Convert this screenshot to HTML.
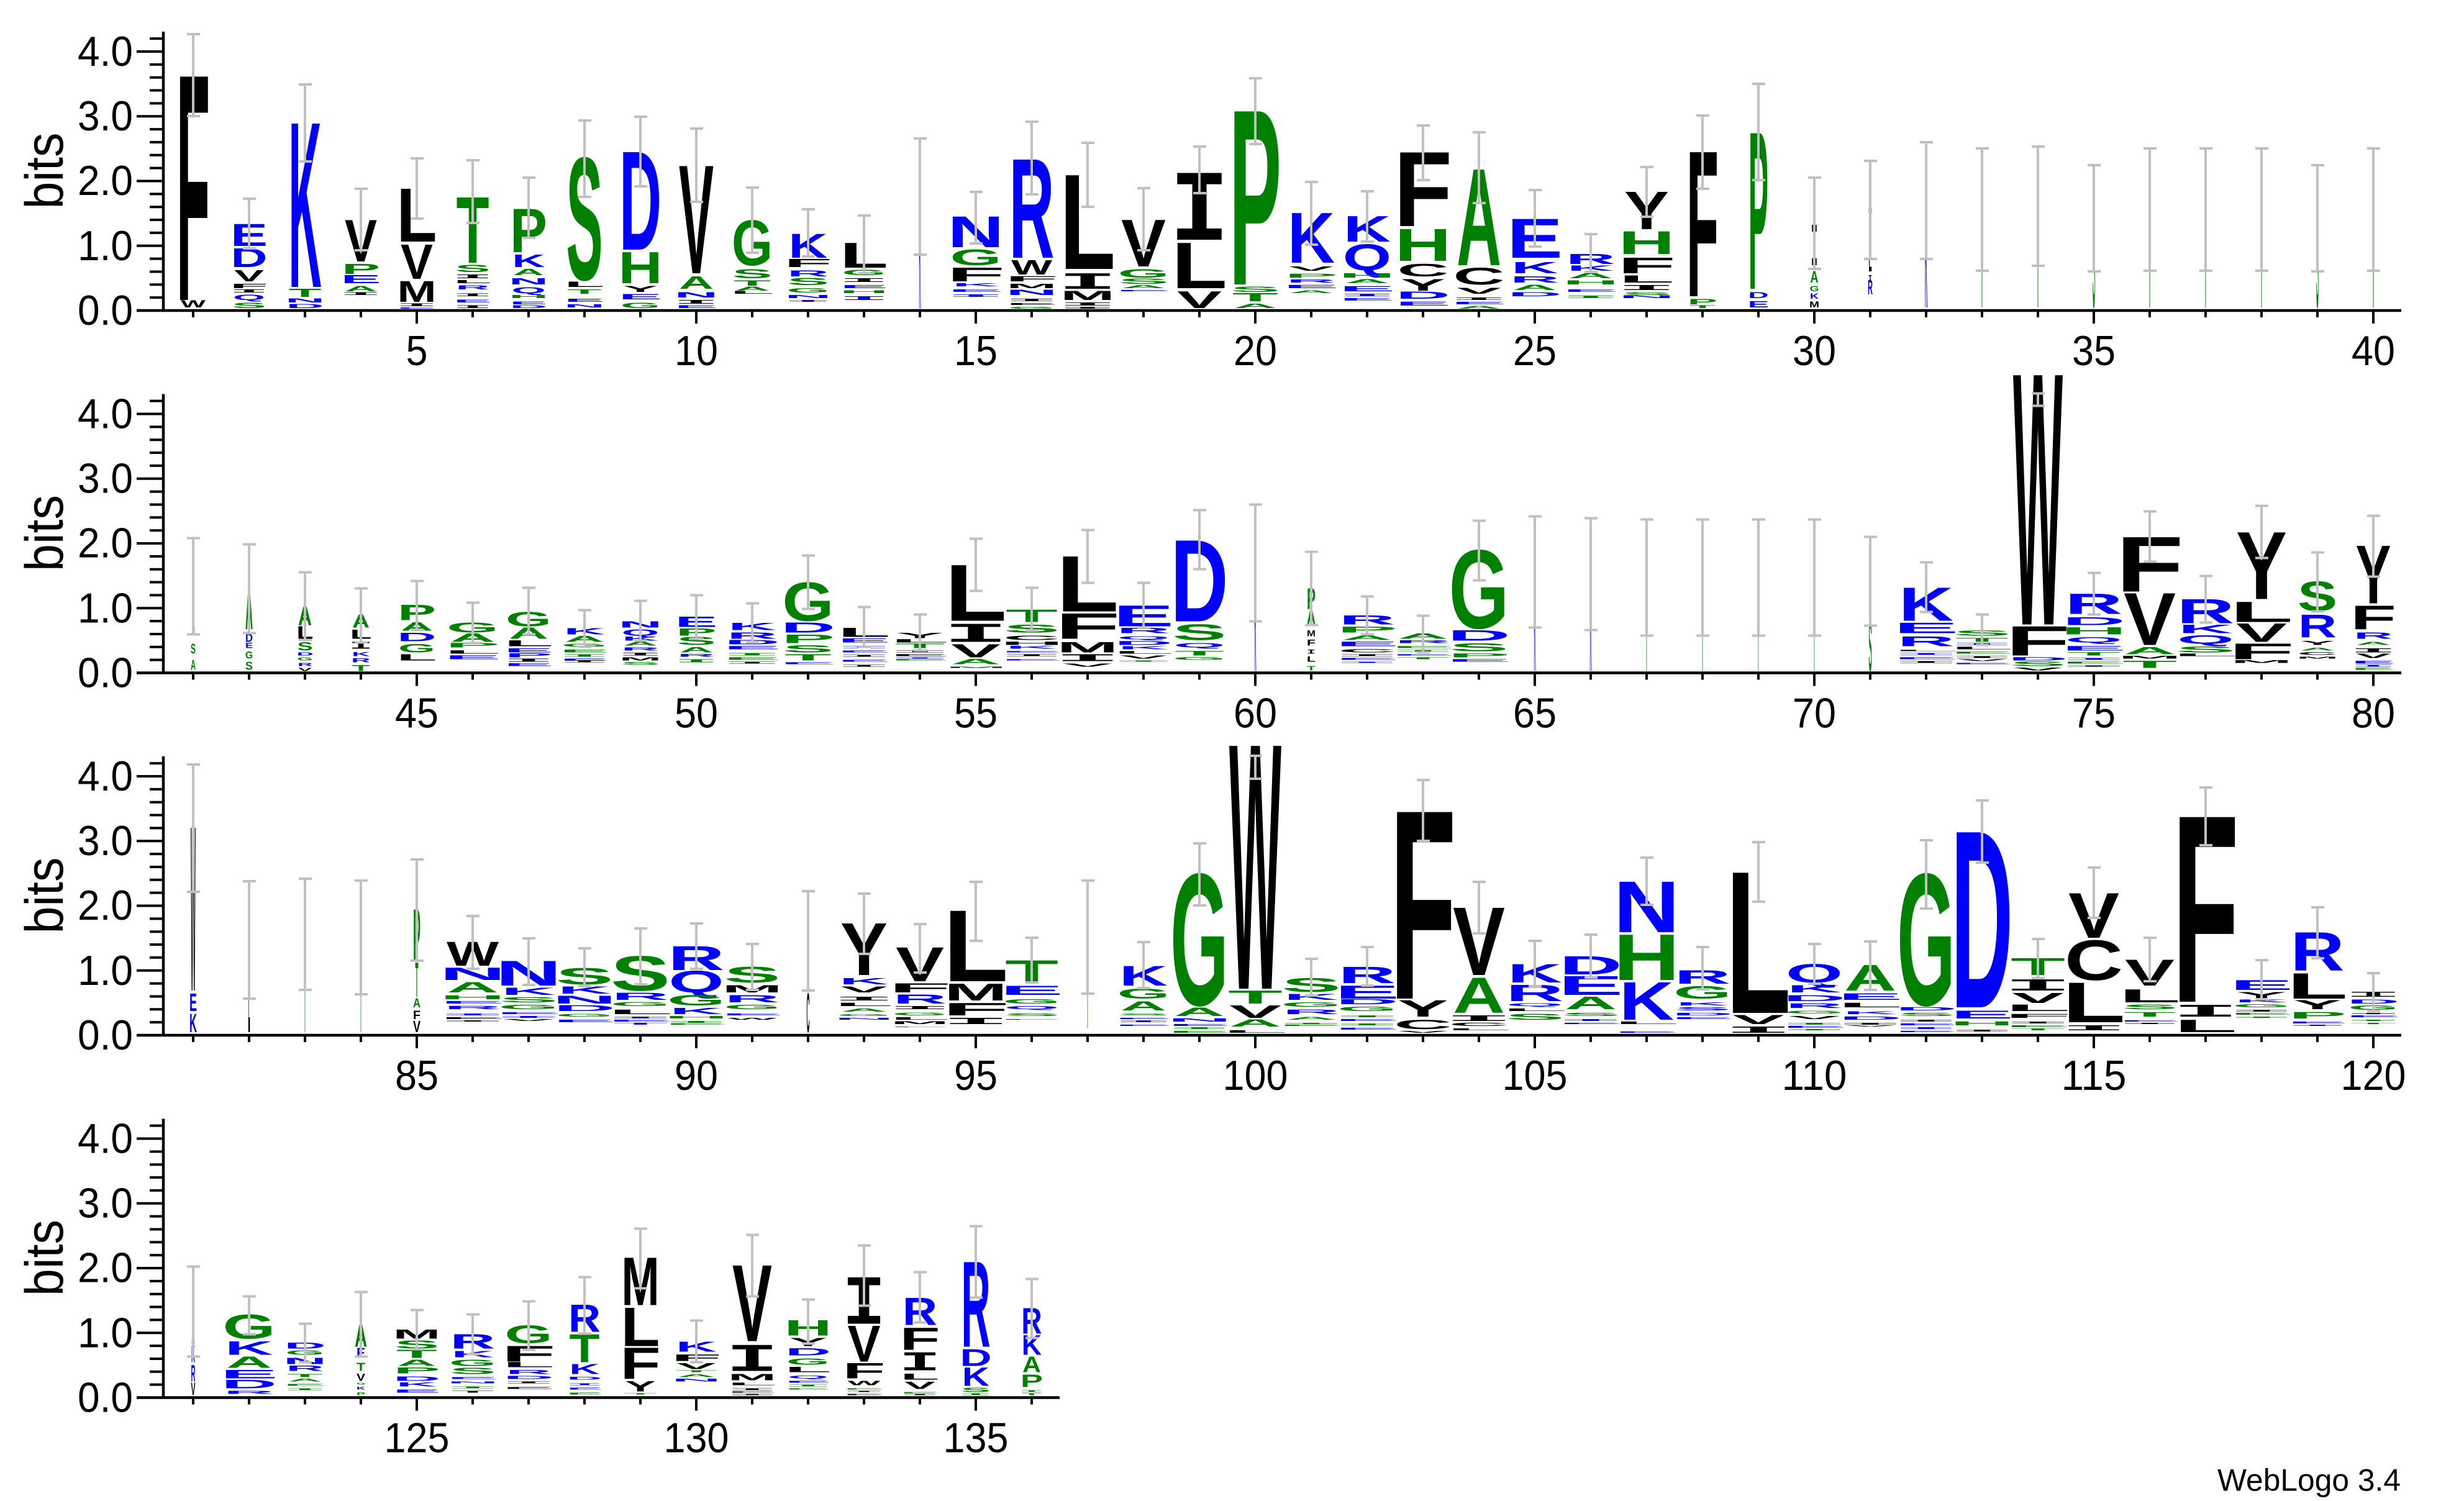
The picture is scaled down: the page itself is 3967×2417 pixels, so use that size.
<!DOCTYPE html>
<html><head><meta charset="utf-8">
<style>
html,body{margin:0;padding:0;background:#fff}
svg{display:block}
.L{font-size:151.1px}
.L text{font-family:"Liberation Sans",sans-serif;font-weight:bold;text-anchor:middle}
.L text.i{font-family:"Liberation Mono",monospace}
.b{fill:#0000ff}.g{fill:#008000}
.e{stroke:#c0c0c0;stroke-width:4;fill:none}
.ax{stroke:#000;fill:none}
.t{font-family:"Liberation Sans",sans-serif;font-size:68px;fill:#000}
.bl{font-family:"Liberation Sans",sans-serif;font-size:86px;fill:#000;text-anchor:middle}
</style></head><body>
<svg width="3967" height="2417" viewBox="0 0 3967 2417" xmlns="http://www.w3.org/2000/svg">
<defs>
<g id="yax">
<path class="ax" stroke-width="4.5" d="M263,-449V2"/>
<path class="ax" stroke-width="4" d="M220,-104.25H263M220,-208.5H263M220,-312.75H263M220,-417H263"/>
<path class="ax" stroke-width="4" d="M241,-20.85H263M241,-41.7H263M241,-62.55H263M241,-83.4H263M241,-125.1H263M241,-145.95H263M241,-166.8H263M241,-187.65H263M241,-229.35H263M241,-250.2H263M241,-271.05H263M241,-291.9H263M241,-333.6H263M241,-354.45H263M241,-375.3H263M241,-396.15H263M241,-437.85H263"/>
</g>
<g id="xt40">
<path class="ax" stroke-width="4.5" d="M220,0H3866"/>
<path class="ax" stroke-width="4" d="M311,0v11M401,0v11M491,0v11M581,0v11M671,0v21M761,0v11M851,0v11M941,0v11M1031,0v11M1121,0v21M1211,0v11M1301,0v11M1391,0v11M1481,0v11M1571,0v21M1661,0v11M1751,0v11M1841,0v11M1931,0v11M2021,0v21M2111,0v11M2201,0v11M2291,0v11M2381,0v11M2471,0v21M2561,0v11M2651,0v11M2741,0v11M2831,0v11M2921,0v21M3011,0v11M3101,0v11M3191,0v11M3281,0v11M3371,0v21M3461,0v11M3551,0v11M3641,0v11M3731,0v11M3821,0v21"/>
</g>
<g id="xt16">
<path class="ax" stroke-width="4.5" d="M220,0H1706"/>
<path class="ax" stroke-width="4" d="M311,0v11M401,0v11M491,0v11M581,0v11M671,0v21M761,0v11M851,0v11M941,0v11M1031,0v11M1121,0v21M1211,0v11M1301,0v11M1391,0v11M1481,0v11M1571,0v21M1661,0v11"/>
</g>
</defs>

<!-- ================= ROW 1 ================= -->
<g transform="translate(0,500)">
<use href="#yax"/><use href="#xt40"/>
<text class="t" x="214" y="23" text-anchor="end" textLength="89" lengthAdjust="spacingAndGlyphs">0.0</text>
<text class="t" x="214" y="-81" text-anchor="end" textLength="89" lengthAdjust="spacingAndGlyphs">1.0</text>
<text class="t" x="214" y="-186" text-anchor="end" textLength="89" lengthAdjust="spacingAndGlyphs">2.0</text>
<text class="t" x="214" y="-290" text-anchor="end" textLength="89" lengthAdjust="spacingAndGlyphs">3.0</text>
<text class="t" x="214" y="-394" text-anchor="end" textLength="89" lengthAdjust="spacingAndGlyphs">4.0</text>
<text class="bl" transform="translate(101,-225) rotate(-90)" textLength="123" lengthAdjust="spacingAndGlyphs">bits</text>
<g class="t" text-anchor="middle">
<text x="671" y="88" textLength="35" lengthAdjust="spacingAndGlyphs">5</text>
<text x="1121" y="88" textLength="70" lengthAdjust="spacingAndGlyphs">10</text>
<text x="1571" y="88" textLength="70" lengthAdjust="spacingAndGlyphs">15</text>
<text x="2021" y="88" textLength="70" lengthAdjust="spacingAndGlyphs">20</text>
<text x="2471" y="88" textLength="70" lengthAdjust="spacingAndGlyphs">25</text>
<text x="2921" y="88" textLength="70" lengthAdjust="spacingAndGlyphs">30</text>
<text x="3371" y="88" textLength="70" lengthAdjust="spacingAndGlyphs">35</text>
<text x="3821" y="88" textLength="70" lengthAdjust="spacingAndGlyphs">40</text>
</g>
<g class="L">
<g transform="translate(311,0)">
<text y="-17" font-size="3.46em" textLength="54" lengthAdjust="spacingAndGlyphs">F</text>
<text y="-5" font-size="0.11em" textLength="40" lengthAdjust="spacingAndGlyphs">W</text>
<path class="e" d="M-10,-445h21M0,-445V-313M-10,-313h21"/></g>
<g transform="translate(401,0)">
<text class="b" y="-104" font-size="0.34em" textLength="60" lengthAdjust="spacingAndGlyphs">E</text>
<text class="b" y="-70" font-size="0.29em" textLength="59" lengthAdjust="spacingAndGlyphs">D</text>
<text y="-47" font-size="0.17em" textLength="48" lengthAdjust="spacingAndGlyphs">V</text>
<text y="-36" font-size="0.07em" textLength="62" lengthAdjust="spacingAndGlyphs">F</text>
<text class="i" y="-29" font-size="0.05em" textLength="64" lengthAdjust="spacingAndGlyphs">I</text>
<text class="b" y="-17" font-size="0.08em" textLength="52" lengthAdjust="spacingAndGlyphs">Q</text>
<text class="g" y="-4" font-size="0.08em" textLength="55" lengthAdjust="spacingAndGlyphs">S</text>
<path class="e" d="M-10,-180h21M0,-180V-100M-10,-100h21"/></g>
<g transform="translate(491,0)">
<text class="b" y="-38" font-size="2.53em" textLength="53" lengthAdjust="spacingAndGlyphs">K</text>
<text class="g" y="-22" font-size="0.12em" textLength="53" lengthAdjust="spacingAndGlyphs">T</text>
<text class="b" y="-13" font-size="0.06em" textLength="64" lengthAdjust="spacingAndGlyphs">N</text>
<text class="b" y="-4" font-size="0.06em" textLength="61" lengthAdjust="spacingAndGlyphs">D</text>
<path class="e" d="M-10,-364h21M0,-364V-240M-10,-240h21"/></g>
<g transform="translate(581,0)">
<text y="-79" font-size="0.64em" textLength="52" lengthAdjust="spacingAndGlyphs">V</text>
<text class="g" y="-59" font-size="0.15em" textLength="62" lengthAdjust="spacingAndGlyphs">P</text>
<text class="b" y="-44" font-size="0.12em" textLength="65" lengthAdjust="spacingAndGlyphs">E</text>
<text class="g" y="-31" font-size="0.08em" textLength="52" lengthAdjust="spacingAndGlyphs">A</text>
<text class="i" y="-25" font-size="0.04em" textLength="69" lengthAdjust="spacingAndGlyphs">I</text>
<path class="e" d="M-10,-196h21M0,-196V-97M-10,-97h21"/></g>
<g transform="translate(671,0)">
<text y="-111" font-size="0.82em" textLength="65" lengthAdjust="spacingAndGlyphs">L</text>
<text y="-51" font-size="0.53em" textLength="52" lengthAdjust="spacingAndGlyphs">V</text>
<text y="-14" font-size="0.32em" textLength="63" lengthAdjust="spacingAndGlyphs">M</text>
<text class="i" y="-7" font-size="0.04em" textLength="69" lengthAdjust="spacingAndGlyphs">I</text>
<text class="b" y="-3" font-size="0.02em" textLength="65" lengthAdjust="spacingAndGlyphs">E</text>
<path class="e" d="M-10,-245h21M0,-245V-148M-10,-148h21"/></g>
<g transform="translate(761,0)">
<text class="g" y="-77" font-size="1.01em" textLength="53" lengthAdjust="spacingAndGlyphs">T</text>
<text class="g" y="-62" font-size="0.11em" textLength="57" lengthAdjust="spacingAndGlyphs">S</text>
<text class="i" y="-52" font-size="0.06em" textLength="66" lengthAdjust="spacingAndGlyphs">I</text>
<text y="-44" font-size="0.05em" textLength="62" lengthAdjust="spacingAndGlyphs">L</text>
<text class="b" y="-34" font-size="0.06em" textLength="55" lengthAdjust="spacingAndGlyphs">R</text>
<text class="i" y="-23" font-size="0.04em" textLength="66" lengthAdjust="spacingAndGlyphs">I</text>
<text class="b" y="-13" font-size="0.04em" textLength="62" lengthAdjust="spacingAndGlyphs">E</text>
<text class="i" y="-4" font-size="0.04em" textLength="66" lengthAdjust="spacingAndGlyphs">I</text>
<path class="e" d="M-10,-242h21M0,-242V-141M-10,-141h21"/></g>
<g transform="translate(851,0)">
<text class="g" y="-94" font-size="0.67em" textLength="60" lengthAdjust="spacingAndGlyphs">P</text>
<text class="b" y="-70" font-size="0.19em" textLength="53" lengthAdjust="spacingAndGlyphs">K</text>
<text class="g" y="-57" font-size="0.10em" textLength="50" lengthAdjust="spacingAndGlyphs">A</text>
<text class="b" y="-42" font-size="0.10em" textLength="64" lengthAdjust="spacingAndGlyphs">N</text>
<text class="b" y="-28" font-size="0.09em" textLength="55" lengthAdjust="spacingAndGlyphs">Q</text>
<text class="g" y="-20" font-size="0.05em" textLength="64" lengthAdjust="spacingAndGlyphs">H</text>
<text class="b" y="-10" font-size="0.04em" textLength="62" lengthAdjust="spacingAndGlyphs">E</text>
<text class="b" y="-4" font-size="0.04em" textLength="61" lengthAdjust="spacingAndGlyphs">D</text>
<path class="e" d="M-10,-214h21M0,-214V-117M-10,-117h21"/></g>
<g transform="translate(941,0)">
<text class="g" y="-50" font-size="1.87em" textLength="59" lengthAdjust="spacingAndGlyphs">S</text>
<text y="-38" font-size="0.08em" textLength="65" lengthAdjust="spacingAndGlyphs">L</text>
<text class="g" y="-27" font-size="0.07em" textLength="55" lengthAdjust="spacingAndGlyphs">T</text>
<text class="b" y="-14" font-size="0.05em" textLength="65" lengthAdjust="spacingAndGlyphs">E</text>
<text class="b" y="-5" font-size="0.05em" textLength="66" lengthAdjust="spacingAndGlyphs">N</text>
<path class="e" d="M-10,-306h21M0,-306V-183M-10,-183h21"/></g>
<g transform="translate(1031,0)">
<text class="b" y="-98" font-size="1.51em" textLength="68" lengthAdjust="spacingAndGlyphs">D</text>
<text class="g" y="-44" font-size="0.48em" textLength="71" lengthAdjust="spacingAndGlyphs">H</text>
<text y="-30" font-size="0.09em" textLength="56" lengthAdjust="spacingAndGlyphs">Y</text>
<text class="b" y="-18" font-size="0.08em" textLength="70" lengthAdjust="spacingAndGlyphs">E</text>
<text class="g" y="-4" font-size="0.08em" textLength="64" lengthAdjust="spacingAndGlyphs">G</text>
<path class="e" d="M-10,-312h21M0,-312V-200M-10,-200h21"/></g>
<g transform="translate(1121,0)">
<text y="-60" font-size="1.66em" textLength="56" lengthAdjust="spacingAndGlyphs">V</text>
<text class="g" y="-35" font-size="0.19em" textLength="56" lengthAdjust="spacingAndGlyphs">A</text>
<text class="b" y="-21" font-size="0.08em" textLength="71" lengthAdjust="spacingAndGlyphs">N</text>
<text class="i" y="-11" font-size="0.06em" textLength="74" lengthAdjust="spacingAndGlyphs">I</text>
<text class="b" y="-4" font-size="0.04em" textLength="70" lengthAdjust="spacingAndGlyphs">E</text>
<path class="e" d="M-10,-293h21M0,-293V-175M-10,-175h21"/></g>
<g transform="translate(1211,0)">
<text class="g" y="-73" font-size="0.69em" textLength="66" lengthAdjust="spacingAndGlyphs">G</text>
<text class="g" y="-52" font-size="0.14em" textLength="65" lengthAdjust="spacingAndGlyphs">S</text>
<text class="g" y="-40" font-size="0.08em" textLength="60" lengthAdjust="spacingAndGlyphs">T</text>
<text class="g" y="-32" font-size="0.06em" textLength="57" lengthAdjust="spacingAndGlyphs">A</text>
<text y="-27" font-size="0.04em" textLength="71" lengthAdjust="spacingAndGlyphs">L</text>
<path class="e" d="M-10,-198h21M0,-198V-93M-10,-93h21"/></g>
<g transform="translate(1301,0)">
<text class="b" y="-85" font-size="0.37em" textLength="63" lengthAdjust="spacingAndGlyphs">K</text>
<text y="-70" font-size="0.12em" textLength="78" lengthAdjust="spacingAndGlyphs">F</text>
<text class="b" y="-55" font-size="0.09em" textLength="67" lengthAdjust="spacingAndGlyphs">R</text>
<text class="g" y="-41" font-size="0.11em" textLength="68" lengthAdjust="spacingAndGlyphs">S</text>
<text class="g" y="-29" font-size="0.07em" textLength="69" lengthAdjust="spacingAndGlyphs">G</text>
<text class="b" y="-20" font-size="0.05em" textLength="76" lengthAdjust="spacingAndGlyphs">N</text>
<text class="i b" y="-14" font-size="0.03em" textLength="80" lengthAdjust="spacingAndGlyphs">I</text>
<path class="e" d="M-10,-163h21M0,-163V-87M-10,-87h21"/></g>
<g transform="translate(1391,0)">
<text y="-69" font-size="0.38em" textLength="78" lengthAdjust="spacingAndGlyphs">L</text>
<text class="g" y="-57" font-size="0.08em" textLength="71" lengthAdjust="spacingAndGlyphs">G</text>
<text class="i" y="-46" font-size="0.06em" textLength="82" lengthAdjust="spacingAndGlyphs">I</text>
<text class="b" y="-36" font-size="0.05em" textLength="78" lengthAdjust="spacingAndGlyphs">E</text>
<text class="g" y="-28" font-size="0.04em" textLength="79" lengthAdjust="spacingAndGlyphs">H</text>
<text class="i b" y="-17" font-size="0.06em" textLength="82" lengthAdjust="spacingAndGlyphs">I</text>
<path class="e" d="M-10,-153h21M0,-153V-60M-10,-60h21"/></g>
<g transform="translate(1481,0)">
<text class="b" y="-3" font-size="1.74em" textLength="3" lengthAdjust="spacingAndGlyphs">K</text>
<path class="e" d="M-10,-277h21M0,-277V-90M-10,-90h21"/></g>
<g transform="translate(1571,0)">
<text class="b" y="-102" font-size="0.47em" textLength="91" lengthAdjust="spacingAndGlyphs">N</text>
<text class="g" y="-73" font-size="0.24em" textLength="83" lengthAdjust="spacingAndGlyphs">G</text>
<text y="-47" font-size="0.21em" textLength="94" lengthAdjust="spacingAndGlyphs">F</text>
<text class="b" y="-39" font-size="0.05em" textLength="76" lengthAdjust="spacingAndGlyphs">K</text>
<text class="b" y="-30" font-size="0.04em" textLength="90" lengthAdjust="spacingAndGlyphs">E</text>
<text class="i b" y="-22" font-size="0.04em" textLength="96" lengthAdjust="spacingAndGlyphs">I</text>
<path class="e" d="M-10,-191h21M0,-191V-108M-10,-108h21"/></g>
<g transform="translate(1661,0)">
<text class="b" y="-85" font-size="1.52em" textLength="73" lengthAdjust="spacingAndGlyphs">R</text>
<text y="-58" font-size="0.22em" textLength="66" lengthAdjust="spacingAndGlyphs">W</text>
<text y="-47" font-size="0.08em" textLength="86" lengthAdjust="spacingAndGlyphs">F</text>
<text y="-36" font-size="0.07em" textLength="81" lengthAdjust="spacingAndGlyphs">M</text>
<text class="b" y="-25" font-size="0.08em" textLength="84" lengthAdjust="spacingAndGlyphs">N</text>
<text class="i" y="-15" font-size="0.04em" textLength="88" lengthAdjust="spacingAndGlyphs">I</text>
<text y="-9" font-size="0.03em" textLength="83" lengthAdjust="spacingAndGlyphs">E</text>
<text class="g" y="-3" font-size="0.03em" textLength="76" lengthAdjust="spacingAndGlyphs">G</text>
<path class="e" d="M-10,-304h21M0,-304V-187M-10,-187h21"/></g>
<g transform="translate(1751,0)">
<text y="-67" font-size="1.45em" textLength="90" lengthAdjust="spacingAndGlyphs">L</text>
<text class="i" y="-35" font-size="0.25em" textLength="96" lengthAdjust="spacingAndGlyphs">I</text>
<text y="-17" font-size="0.14em" textLength="88" lengthAdjust="spacingAndGlyphs">M</text>
<text class="i" y="-8" font-size="0.05em" textLength="96" lengthAdjust="spacingAndGlyphs">I</text>
<text class="i" y="-3" font-size="0.03em" textLength="96" lengthAdjust="spacingAndGlyphs">I</text>
<path class="e" d="M-10,-270h21M0,-270V-167M-10,-167h21"/></g>
<g transform="translate(1841,0)">
<text y="-71" font-size="0.72em" textLength="72" lengthAdjust="spacingAndGlyphs">V</text>
<text class="g" y="-53" font-size="0.13em" textLength="83" lengthAdjust="spacingAndGlyphs">G</text>
<text class="g" y="-43" font-size="0.08em" textLength="82" lengthAdjust="spacingAndGlyphs">S</text>
<text class="g" y="-36" font-size="0.05em" textLength="72" lengthAdjust="spacingAndGlyphs">A</text>
<text class="b" y="-31" font-size="0.02em" textLength="90" lengthAdjust="spacingAndGlyphs">E</text>
<path class="e" d="M-10,-197h21M0,-197V-97M-10,-97h21"/></g>
<g transform="translate(1931,0)">
<text class="i" y="-114" font-size="1.08em" textLength="96" lengthAdjust="spacingAndGlyphs">I</text>
<text y="-36" font-size="0.70em" textLength="90" lengthAdjust="spacingAndGlyphs">L</text>
<text y="-4" font-size="0.26em" textLength="72" lengthAdjust="spacingAndGlyphs">V</text>
<path class="e" d="M-10,-264h21M0,-264V-189M-10,-189h21"/></g>
<g transform="translate(2021,0)">
<text class="g" y="-42" font-size="2.68em" textLength="84" lengthAdjust="spacingAndGlyphs">P</text>
<text class="g" y="-30" font-size="0.08em" textLength="80" lengthAdjust="spacingAndGlyphs">S</text>
<text class="g" y="-15" font-size="0.12em" textLength="74" lengthAdjust="spacingAndGlyphs">T</text>
<text class="g" y="-4" font-size="0.07em" textLength="70" lengthAdjust="spacingAndGlyphs">A</text>
<path class="e" d="M-10,-374h21M0,-374V-268M-10,-268h21"/></g>
<g transform="translate(2111,0)">
<text class="b" y="-77" font-size="0.77em" textLength="76" lengthAdjust="spacingAndGlyphs">K</text>
<text y="-64" font-size="0.07em" textLength="72" lengthAdjust="spacingAndGlyphs">V</text>
<text class="g" y="-53" font-size="0.06em" textLength="86" lengthAdjust="spacingAndGlyphs">P</text>
<text class="b" y="-45" font-size="0.05em" textLength="80" lengthAdjust="spacingAndGlyphs">R</text>
<text class="b" y="-36" font-size="0.05em" textLength="90" lengthAdjust="spacingAndGlyphs">E</text>
<text class="g" y="-28" font-size="0.04em" textLength="72" lengthAdjust="spacingAndGlyphs">A</text>
<path class="e" d="M-10,-207h21M0,-207V-106M-10,-106h21"/></g>
<g transform="translate(2201,0)">
<text class="b" y="-111" font-size="0.39em" textLength="76" lengthAdjust="spacingAndGlyphs">K</text>
<text class="b" y="-65" font-size="0.40em" textLength="78" lengthAdjust="spacingAndGlyphs">Q</text>
<text class="g" y="-53" font-size="0.07em" textLength="91" lengthAdjust="spacingAndGlyphs">H</text>
<text class="g" y="-44" font-size="0.06em" textLength="72" lengthAdjust="spacingAndGlyphs">A</text>
<text class="b" y="-31" font-size="0.08em" textLength="90" lengthAdjust="spacingAndGlyphs">E</text>
<text class="i b" y="-23" font-size="0.04em" textLength="96" lengthAdjust="spacingAndGlyphs">I</text>
<text class="b" y="-16" font-size="0.04em" textLength="90" lengthAdjust="spacingAndGlyphs">E</text>
<path class="e" d="M-10,-192h21M0,-192V-111M-10,-111h21"/></g>
<g transform="translate(2291,0)">
<text y="-136" font-size="1.14em" textLength="94" lengthAdjust="spacingAndGlyphs">F</text>
<text class="g" y="-80" font-size="0.49em" textLength="91" lengthAdjust="spacingAndGlyphs">H</text>
<text y="-55" font-size="0.19em" textLength="83" lengthAdjust="spacingAndGlyphs">C</text>
<text y="-32" font-size="0.18em" textLength="72" lengthAdjust="spacingAndGlyphs">Y</text>
<text class="b" y="-19" font-size="0.11em" textLength="88" lengthAdjust="spacingAndGlyphs">D</text>
<text class="b" y="-8" font-size="0.06em" textLength="90" lengthAdjust="spacingAndGlyphs">E</text>
<path class="e" d="M-10,-298h21M0,-298V-210M-10,-210h21"/></g>
<g transform="translate(2381,0)">
<text class="g" y="-73" font-size="1.48em" textLength="72" lengthAdjust="spacingAndGlyphs">A</text>
<text y="-42" font-size="0.26em" textLength="83" lengthAdjust="spacingAndGlyphs">C</text>
<text y="-27" font-size="0.09em" textLength="72" lengthAdjust="spacingAndGlyphs">V</text>
<text class="i" y="-17" font-size="0.04em" textLength="96" lengthAdjust="spacingAndGlyphs">I</text>
<text class="b" y="-10" font-size="0.04em" textLength="90" lengthAdjust="spacingAndGlyphs">E</text>
<text class="g" y="-3" font-size="0.04em" textLength="72" lengthAdjust="spacingAndGlyphs">A</text>
<path class="e" d="M-10,-287h21M0,-287V-173M-10,-173h21"/></g>
<g transform="translate(2471,0)">
<text class="b" y="-85" font-size="0.60em" textLength="90" lengthAdjust="spacingAndGlyphs">E</text>
<text class="b" y="-60" font-size="0.17em" textLength="76" lengthAdjust="spacingAndGlyphs">K</text>
<text class="b" y="-45" font-size="0.10em" textLength="80" lengthAdjust="spacingAndGlyphs">R</text>
<text class="g" y="-33" font-size="0.08em" textLength="72" lengthAdjust="spacingAndGlyphs">A</text>
<text class="b" y="-23" font-size="0.06em" textLength="88" lengthAdjust="spacingAndGlyphs">D</text>
<path class="e" d="M-10,-194h21M0,-194V-103M-10,-103h21"/></g>
<g transform="translate(2561,0)">
<text class="b" y="-75" font-size="0.15em" textLength="80" lengthAdjust="spacingAndGlyphs">R</text>
<text class="b" y="-64" font-size="0.08em" textLength="76" lengthAdjust="spacingAndGlyphs">K</text>
<text class="g" y="-52" font-size="0.08em" textLength="72" lengthAdjust="spacingAndGlyphs">A</text>
<text class="g" y="-42" font-size="0.06em" textLength="91" lengthAdjust="spacingAndGlyphs">H</text>
<text class="b" y="-30" font-size="0.04em" textLength="90" lengthAdjust="spacingAndGlyphs">E</text>
<text class="i g" y="-20" font-size="0.04em" textLength="96" lengthAdjust="spacingAndGlyphs">I</text>
<path class="e" d="M-10,-123h21M0,-123V-62M-10,-62h21"/></g>
<g transform="translate(2651,0)">
<text y="-131" font-size="0.58em" textLength="72" lengthAdjust="spacingAndGlyphs">Y</text>
<text class="g" y="-91" font-size="0.35em" textLength="91" lengthAdjust="spacingAndGlyphs">H</text>
<text y="-60" font-size="0.24em" textLength="94" lengthAdjust="spacingAndGlyphs">F</text>
<text y="-45" font-size="0.11em" textLength="90" lengthAdjust="spacingAndGlyphs">L</text>
<text class="i" y="-33" font-size="0.08em" textLength="96" lengthAdjust="spacingAndGlyphs">I</text>
<text class="g" y="-25" font-size="0.04em" textLength="82" lengthAdjust="spacingAndGlyphs">S</text>
<text class="b" y="-20" font-size="0.04em" textLength="91" lengthAdjust="spacingAndGlyphs">N</text>
<path class="e" d="M-10,-231h21M0,-231V-151M-10,-151h21"/></g>
<g transform="translate(2741,0)">
<text y="-23" font-size="2.23em" textLength="52" lengthAdjust="spacingAndGlyphs">F</text>
<text class="g" y="-10" font-size="0.08em" textLength="48" lengthAdjust="spacingAndGlyphs">P</text>
<text class="g" y="-4" font-size="0.04em" textLength="42" lengthAdjust="spacingAndGlyphs">T</text>
<path class="e" d="M-10,-314h21M0,-314V-196M-10,-196h21"/></g>
<g transform="translate(2831,0)">
<text class="g" y="-35" font-size="2.41em" textLength="32" lengthAdjust="spacingAndGlyphs">P</text>
<text class="b" y="-20" font-size="0.09em" textLength="33" lengthAdjust="spacingAndGlyphs">D</text>
<text class="b" y="-5" font-size="0.10em" textLength="34" lengthAdjust="spacingAndGlyphs">E</text>
<path class="e" d="M-10,-365h21M0,-365V-210M-10,-210h21"/></g>
<g transform="translate(2921,0)">
<text class="i" y="-73" font-size="0.65em" textLength="10" lengthAdjust="spacingAndGlyphs">I</text>
<text class="g" y="-45" font-size="0.18em" textLength="13" lengthAdjust="spacingAndGlyphs">A</text>
<text class="g" y="-31" font-size="0.08em" textLength="15" lengthAdjust="spacingAndGlyphs">G</text>
<text class="b" y="-19" font-size="0.08em" textLength="14" lengthAdjust="spacingAndGlyphs">K</text>
<text y="-5" font-size="0.09em" textLength="16" lengthAdjust="spacingAndGlyphs">M</text>
<path class="e" d="M-10,-214h21M0,-214V-67M-10,-67h21"/></g>
<g transform="translate(3011,0)">
<text class="g" y="-115" font-size="0.47em" textLength="5" lengthAdjust="spacingAndGlyphs">T</text>
<text y="-63" font-size="0.45em" textLength="5" lengthAdjust="spacingAndGlyphs">L</text>
<text class="i" y="-47" font-size="0.10em" textLength="6" lengthAdjust="spacingAndGlyphs">I</text>
<text class="b" y="-26" font-size="0.22em" textLength="8" lengthAdjust="spacingAndGlyphs">R</text>
<path class="e" d="M-10,-241h21M0,-241V-83M-10,-83h21"/></g>
<g transform="translate(3101,0)">
<text class="b" y="-5" font-size="1.65em" textLength="4" lengthAdjust="spacingAndGlyphs">K</text>
<path class="e" d="M-10,-271h21M0,-271V-83M-10,-83h21"/></g>
<g transform="translate(3191,0)">
<text class="g" y="-5" font-size="1.50em" textLength="4" lengthAdjust="spacingAndGlyphs">T</text>
<path class="e" d="M-10,-261h21M0,-261V-64M-10,-64h21"/></g>
<g transform="translate(3281,0)">
<text class="g" y="-5" font-size="1.56em" textLength="4" lengthAdjust="spacingAndGlyphs">T</text>
<path class="e" d="M-10,-264h21M0,-264V-72M-10,-72h21"/></g>
<g transform="translate(3371,0)">
<text class="g" y="-5" font-size="1.37em" textLength="4" lengthAdjust="spacingAndGlyphs">S</text>
<path class="e" d="M-10,-234h21M0,-234V-63M-10,-63h21"/></g>
<g transform="translate(3461,0)">
<text class="g" y="-5" font-size="1.50em" textLength="4" lengthAdjust="spacingAndGlyphs">T</text>
<path class="e" d="M-10,-261h21M0,-261V-64M-10,-64h21"/></g>
<g transform="translate(3551,0)">
<text class="g" y="-5" font-size="1.50em" textLength="4" lengthAdjust="spacingAndGlyphs">T</text>
<path class="e" d="M-10,-261h21M0,-261V-64M-10,-64h21"/></g>
<g transform="translate(3641,0)">
<text class="g" y="-5" font-size="1.50em" textLength="4" lengthAdjust="spacingAndGlyphs">T</text>
<path class="e" d="M-10,-261h21M0,-261V-64M-10,-64h21"/></g>
<g transform="translate(3731,0)">
<text class="g" y="-5" font-size="1.37em" textLength="4" lengthAdjust="spacingAndGlyphs">S</text>
<path class="e" d="M-10,-234h21M0,-234V-63M-10,-63h21"/></g>
<g transform="translate(3821,0)">
<text class="g" y="-5" font-size="1.50em" textLength="4" lengthAdjust="spacingAndGlyphs">T</text>
<path class="e" d="M-10,-261h21M0,-261V-64M-10,-64h21"/></g>
</g>
</g>

<!-- ================= ROW 2 ================= -->
<g transform="translate(0,1083.5)">
<use href="#yax"/><use href="#xt40"/>
<text class="t" x="214" y="23" text-anchor="end" textLength="89" lengthAdjust="spacingAndGlyphs">0.0</text>
<text class="t" x="214" y="-81" text-anchor="end" textLength="89" lengthAdjust="spacingAndGlyphs">1.0</text>
<text class="t" x="214" y="-186" text-anchor="end" textLength="89" lengthAdjust="spacingAndGlyphs">2.0</text>
<text class="t" x="214" y="-290" text-anchor="end" textLength="89" lengthAdjust="spacingAndGlyphs">3.0</text>
<text class="t" x="214" y="-394" text-anchor="end" textLength="89" lengthAdjust="spacingAndGlyphs">4.0</text>
<text class="bl" transform="translate(101,-225) rotate(-90)" textLength="123" lengthAdjust="spacingAndGlyphs">bits</text>
<g class="t" text-anchor="middle">
<text x="671" y="88" textLength="70" lengthAdjust="spacingAndGlyphs">45</text>
<text x="1121" y="88" textLength="70" lengthAdjust="spacingAndGlyphs">50</text>
<text x="1571" y="88" textLength="70" lengthAdjust="spacingAndGlyphs">55</text>
<text x="2021" y="88" textLength="70" lengthAdjust="spacingAndGlyphs">60</text>
<text x="2471" y="88" textLength="70" lengthAdjust="spacingAndGlyphs">65</text>
<text x="2921" y="88" textLength="70" lengthAdjust="spacingAndGlyphs">70</text>
<text x="3371" y="88" textLength="70" lengthAdjust="spacingAndGlyphs">75</text>
<text x="3821" y="88" textLength="70" lengthAdjust="spacingAndGlyphs">80</text>
</g>
<g class="L">
<g transform="translate(311,0)">
<text y="-63" font-size="0.74em" textLength="5" lengthAdjust="spacingAndGlyphs">L</text>
<text class="g" y="-31" font-size="0.15em" textLength="8" lengthAdjust="spacingAndGlyphs">S</text>
<text class="g" y="-5" font-size="0.15em" textLength="8" lengthAdjust="spacingAndGlyphs">A</text>
<path class="e" d="M-10,-217h21M0,-217V-62M-10,-62h21"/></g>
<g transform="translate(401,0)">
<text class="g" y="-70" font-size="0.63em" textLength="12" lengthAdjust="spacingAndGlyphs">A</text>
<text class="b" y="-50" font-size="0.12em" textLength="12" lengthAdjust="spacingAndGlyphs">D</text>
<text class="b" y="-40" font-size="0.08em" textLength="12" lengthAdjust="spacingAndGlyphs">E</text>
<text class="g" y="-23" font-size="0.11em" textLength="12" lengthAdjust="spacingAndGlyphs">G</text>
<text class="g" y="-5" font-size="0.12em" textLength="12" lengthAdjust="spacingAndGlyphs">S</text>
<path class="e" d="M-10,-207h21M0,-207V-64M-10,-64h21"/></g>
<g transform="translate(491,0)">
<text class="g" y="-77" font-size="0.29em" textLength="22" lengthAdjust="spacingAndGlyphs">A</text>
<text y="-55" font-size="0.19em" textLength="27" lengthAdjust="spacingAndGlyphs">L</text>
<text class="g" y="-36" font-size="0.13em" textLength="25" lengthAdjust="spacingAndGlyphs">S</text>
<text class="b" y="-28" font-size="0.05em" textLength="27" lengthAdjust="spacingAndGlyphs">D</text>
<text class="g" y="-20" font-size="0.05em" textLength="25" lengthAdjust="spacingAndGlyphs">G</text>
<text class="b" y="-11" font-size="0.05em" textLength="24" lengthAdjust="spacingAndGlyphs">R</text>
<text y="-3" font-size="0.05em" textLength="22" lengthAdjust="spacingAndGlyphs">V</text>
<path class="e" d="M-10,-162h21M0,-162V-53M-10,-53h21"/></g>
<g transform="translate(581,0)">
<text class="g" y="-73" font-size="0.20em" textLength="28" lengthAdjust="spacingAndGlyphs">A</text>
<text y="-55" font-size="0.14em" textLength="35" lengthAdjust="spacingAndGlyphs">L</text>
<text class="i" y="-39" font-size="0.11em" textLength="37" lengthAdjust="spacingAndGlyphs">I</text>
<text class="b" y="-27" font-size="0.06em" textLength="29" lengthAdjust="spacingAndGlyphs">K</text>
<text class="b" y="-17" font-size="0.06em" textLength="31" lengthAdjust="spacingAndGlyphs">R</text>
<text class="g" y="-3" font-size="0.09em" textLength="29" lengthAdjust="spacingAndGlyphs">T</text>
<path class="e" d="M-10,-136h21M0,-136V-49M-10,-49h21"/></g>
<g transform="translate(671,0)">
<text class="g" y="-85" font-size="0.23em" textLength="62" lengthAdjust="spacingAndGlyphs">P</text>
<text class="g" y="-68" font-size="0.13em" textLength="52" lengthAdjust="spacingAndGlyphs">A</text>
<text class="b" y="-51" font-size="0.13em" textLength="63" lengthAdjust="spacingAndGlyphs">D</text>
<text class="g" y="-33" font-size="0.13em" textLength="60" lengthAdjust="spacingAndGlyphs">G</text>
<text y="-20" font-size="0.10em" textLength="65" lengthAdjust="spacingAndGlyphs">L</text>
<path class="e" d="M-10,-148h21M0,-148V-69M-10,-69h21"/></g>
<g transform="translate(761,0)">
<text class="g" y="-65" font-size="0.15em" textLength="84" lengthAdjust="spacingAndGlyphs">G</text>
<text class="g" y="-50" font-size="0.13em" textLength="73" lengthAdjust="spacingAndGlyphs">A</text>
<text class="g" y="-41" font-size="0.07em" textLength="88" lengthAdjust="spacingAndGlyphs">P</text>
<text y="-31" font-size="0.05em" textLength="91" lengthAdjust="spacingAndGlyphs">L</text>
<text class="b" y="-22" font-size="0.06em" textLength="91" lengthAdjust="spacingAndGlyphs">E</text>
<path class="e" d="M-10,-113h21M0,-113V-48M-10,-48h21"/></g>
<g transform="translate(851,0)">
<text class="g" y="-75" font-size="0.22em" textLength="74" lengthAdjust="spacingAndGlyphs">G</text>
<text class="g" y="-55" font-size="0.17em" textLength="64" lengthAdjust="spacingAndGlyphs">A</text>
<text y="-43" font-size="0.09em" textLength="80" lengthAdjust="spacingAndGlyphs">L</text>
<text class="b" y="-33" font-size="0.06em" textLength="80" lengthAdjust="spacingAndGlyphs">E</text>
<text class="b" y="-25" font-size="0.06em" textLength="77" lengthAdjust="spacingAndGlyphs">P</text>
<text class="i" y="-18" font-size="0.05em" textLength="85" lengthAdjust="spacingAndGlyphs">I</text>
<text class="b" y="-11" font-size="0.04em" textLength="80" lengthAdjust="spacingAndGlyphs">E</text>
<path class="e" d="M-10,-137h21M0,-137V-62M-10,-62h21"/></g>
<g transform="translate(941,0)">
<text class="b" y="-62" font-size="0.10em" textLength="67" lengthAdjust="spacingAndGlyphs">K</text>
<text class="g" y="-50" font-size="0.09em" textLength="64" lengthAdjust="spacingAndGlyphs">A</text>
<text class="g" y="-42" font-size="0.05em" textLength="74" lengthAdjust="spacingAndGlyphs">G</text>
<text class="g" y="-33" font-size="0.04em" textLength="80" lengthAdjust="spacingAndGlyphs">E</text>
<text class="i g" y="-26" font-size="0.04em" textLength="85" lengthAdjust="spacingAndGlyphs">I</text>
<text class="b" y="-20" font-size="0.03em" textLength="80" lengthAdjust="spacingAndGlyphs">E</text>
<text class="i" y="-17" font-size="0.03em" textLength="85" lengthAdjust="spacingAndGlyphs">I</text>
<path class="e" d="M-10,-101h21M0,-101V-42M-10,-42h21"/></g>
<g transform="translate(1031,0)">
<text class="b" y="-73" font-size="0.10em" textLength="71" lengthAdjust="spacingAndGlyphs">N</text>
<text class="b" y="-60" font-size="0.10em" textLength="61" lengthAdjust="spacingAndGlyphs">Q</text>
<text class="b" y="-52" font-size="0.06em" textLength="59" lengthAdjust="spacingAndGlyphs">K</text>
<text class="g" y="-44" font-size="0.06em" textLength="56" lengthAdjust="spacingAndGlyphs">A</text>
<text class="b" y="-36" font-size="0.05em" textLength="62" lengthAdjust="spacingAndGlyphs">R</text>
<text class="i" y="-28" font-size="0.04em" textLength="74" lengthAdjust="spacingAndGlyphs">I</text>
<text y="-20" font-size="0.05em" textLength="68" lengthAdjust="spacingAndGlyphs">M</text>
<text class="g" y="-13" font-size="0.04em" textLength="64" lengthAdjust="spacingAndGlyphs">S</text>
<path class="e" d="M-10,-116h21M0,-116V-52M-10,-52h21"/></g>
<g transform="translate(1121,0)">
<text class="b" y="-74" font-size="0.16em" textLength="69" lengthAdjust="spacingAndGlyphs">E</text>
<text class="g" y="-60" font-size="0.11em" textLength="66" lengthAdjust="spacingAndGlyphs">P</text>
<text class="g" y="-45" font-size="0.12em" textLength="63" lengthAdjust="spacingAndGlyphs">S</text>
<text class="g" y="-33" font-size="0.08em" textLength="55" lengthAdjust="spacingAndGlyphs">A</text>
<text class="b" y="-26" font-size="0.04em" textLength="61" lengthAdjust="spacingAndGlyphs">R</text>
<text class="i g" y="-17" font-size="0.05em" textLength="73" lengthAdjust="spacingAndGlyphs">I</text>
<path class="e" d="M-10,-125h21M0,-125V-55M-10,-55h21"/></g>
<g transform="translate(1211,0)">
<text class="b" y="-69" font-size="0.11em" textLength="78" lengthAdjust="spacingAndGlyphs">K</text>
<text class="b" y="-55" font-size="0.10em" textLength="82" lengthAdjust="spacingAndGlyphs">R</text>
<text class="b" y="-46" font-size="0.07em" textLength="90" lengthAdjust="spacingAndGlyphs">D</text>
<text class="b" y="-38" font-size="0.05em" textLength="93" lengthAdjust="spacingAndGlyphs">E</text>
<text class="i g" y="-28" font-size="0.04em" textLength="98" lengthAdjust="spacingAndGlyphs">I</text>
<text class="g" y="-21" font-size="0.04em" textLength="93" lengthAdjust="spacingAndGlyphs">E</text>
<text class="i" y="-15" font-size="0.03em" textLength="98" lengthAdjust="spacingAndGlyphs">I</text>
<path class="e" d="M-10,-112h21M0,-112V-49M-10,-49h21"/></g>
<g transform="translate(1301,0)">
<text class="g" y="-84" font-size="0.59em" textLength="83" lengthAdjust="spacingAndGlyphs">G</text>
<text class="b" y="-65" font-size="0.15em" textLength="88" lengthAdjust="spacingAndGlyphs">D</text>
<text class="g" y="-48" font-size="0.13em" textLength="86" lengthAdjust="spacingAndGlyphs">P</text>
<text class="g" y="-33" font-size="0.11em" textLength="82" lengthAdjust="spacingAndGlyphs">S</text>
<text class="g" y="-20" font-size="0.10em" textLength="76" lengthAdjust="spacingAndGlyphs">T</text>
<text class="b" y="-14" font-size="0.03em" textLength="90" lengthAdjust="spacingAndGlyphs">E</text>
<path class="e" d="M-10,-189h21M0,-189V-103M-10,-103h21"/></g>
<g transform="translate(1391,0)">
<text y="-58" font-size="0.14em" textLength="85" lengthAdjust="spacingAndGlyphs">L</text>
<text class="b" y="-49" font-size="0.06em" textLength="85" lengthAdjust="spacingAndGlyphs">E</text>
<text class="i b" y="-40" font-size="0.03em" textLength="90" lengthAdjust="spacingAndGlyphs">I</text>
<text class="b" y="-33" font-size="0.03em" textLength="85" lengthAdjust="spacingAndGlyphs">E</text>
<text class="i" y="-26" font-size="0.03em" textLength="90" lengthAdjust="spacingAndGlyphs">I</text>
<text class="b" y="-18" font-size="0.03em" textLength="85" lengthAdjust="spacingAndGlyphs">E</text>
<text class="i" y="-10" font-size="0.03em" textLength="90" lengthAdjust="spacingAndGlyphs">I</text>
<path class="e" d="M-10,-106h21M0,-106V-42M-10,-42h21"/></g>
<g transform="translate(1481,0)">
<text y="-56" font-size="0.08em" textLength="76" lengthAdjust="spacingAndGlyphs">Y</text>
<text y="-49" font-size="0.05em" textLength="95" lengthAdjust="spacingAndGlyphs">L</text>
<text class="g" y="-40" font-size="0.07em" textLength="80" lengthAdjust="spacingAndGlyphs">T</text>
<text class="i" y="-33" font-size="0.03em" textLength="101" lengthAdjust="spacingAndGlyphs">I</text>
<text y="-27" font-size="0.03em" textLength="95" lengthAdjust="spacingAndGlyphs">E</text>
<text class="i b" y="-23" font-size="0.02em" textLength="101" lengthAdjust="spacingAndGlyphs">I</text>
<text class="g" y="-20" font-size="0.02em" textLength="95" lengthAdjust="spacingAndGlyphs">E</text>
<path class="e" d="M-10,-94h21M0,-94V-36M-10,-36h21"/></g>
<g transform="translate(1571,0)">
<text y="-84" font-size="0.86em" textLength="100" lengthAdjust="spacingAndGlyphs">L</text>
<text class="i" y="-50" font-size="0.29em" textLength="106" lengthAdjust="spacingAndGlyphs">I</text>
<text y="-25" font-size="0.20em" textLength="80" lengthAdjust="spacingAndGlyphs">V</text>
<text class="g" y="-14" font-size="0.08em" textLength="80" lengthAdjust="spacingAndGlyphs">A</text>
<text y="-8" font-size="0.02em" textLength="98" lengthAdjust="spacingAndGlyphs">M</text>
<path class="e" d="M-10,-216h21M0,-216V-132M-10,-132h21"/></g>
<g transform="translate(1661,0)">
<text class="g" y="-82" font-size="0.19em" textLength="84" lengthAdjust="spacingAndGlyphs">T</text>
<text class="g" y="-65" font-size="0.12em" textLength="91" lengthAdjust="spacingAndGlyphs">S</text>
<text y="-53" font-size="0.07em" textLength="92" lengthAdjust="spacingAndGlyphs">C</text>
<text y="-45" font-size="0.05em" textLength="102" lengthAdjust="spacingAndGlyphs">H</text>
<text class="b" y="-39" font-size="0.04em" textLength="84" lengthAdjust="spacingAndGlyphs">K</text>
<text class="b" y="-33" font-size="0.02em" textLength="100" lengthAdjust="spacingAndGlyphs">E</text>
<text class="i" y="-27" font-size="0.03em" textLength="106" lengthAdjust="spacingAndGlyphs">I</text>
<text class="b" y="-20" font-size="0.02em" textLength="100" lengthAdjust="spacingAndGlyphs">E</text>
<path class="e" d="M-10,-137h21M0,-137V-68M-10,-68h21"/></g>
<g transform="translate(1751,0)">
<text y="-99" font-size="0.85em" textLength="101" lengthAdjust="spacingAndGlyphs">L</text>
<text y="-55" font-size="0.39em" textLength="105" lengthAdjust="spacingAndGlyphs">F</text>
<text y="-33" font-size="0.16em" textLength="99" lengthAdjust="spacingAndGlyphs">M</text>
<text class="i" y="-19" font-size="0.11em" textLength="108" lengthAdjust="spacingAndGlyphs">I</text>
<text y="-10" font-size="0.05em" textLength="81" lengthAdjust="spacingAndGlyphs">V</text>
<path class="e" d="M-10,-230h21M0,-230V-145M-10,-145h21"/></g>
<g transform="translate(1841,0)">
<text class="b" y="-75" font-size="0.32em" textLength="98" lengthAdjust="spacingAndGlyphs">E</text>
<text class="b" y="-64" font-size="0.08em" textLength="87" lengthAdjust="spacingAndGlyphs">R</text>
<text class="b" y="-54" font-size="0.05em" textLength="85" lengthAdjust="spacingAndGlyphs">Q</text>
<text class="b" y="-45" font-size="0.06em" textLength="95" lengthAdjust="spacingAndGlyphs">D</text>
<text class="b" y="-38" font-size="0.05em" textLength="82" lengthAdjust="spacingAndGlyphs">K</text>
<text y="-31" font-size="0.04em" textLength="98" lengthAdjust="spacingAndGlyphs">L</text>
<text y="-23" font-size="0.05em" textLength="78" lengthAdjust="spacingAndGlyphs">V</text>
<text class="i g" y="-18" font-size="0.02em" textLength="104" lengthAdjust="spacingAndGlyphs">I</text>
<path class="e" d="M-10,-145h21M0,-145V-72M-10,-72h21"/></g>
<g transform="translate(1931,0)">
<text class="b" y="-83" font-size="1.25em" textLength="93" lengthAdjust="spacingAndGlyphs">D</text>
<text class="g" y="-53" font-size="0.24em" textLength="87" lengthAdjust="spacingAndGlyphs">S</text>
<text class="b" y="-41" font-size="0.07em" textLength="83" lengthAdjust="spacingAndGlyphs">Q</text>
<text class="g" y="-28" font-size="0.07em" textLength="80" lengthAdjust="spacingAndGlyphs">T</text>
<text class="g" y="-21" font-size="0.04em" textLength="87" lengthAdjust="spacingAndGlyphs">G</text>
<path class="e" d="M-10,-262h21M0,-262V-167M-10,-167h21"/></g>
<g transform="translate(2021,0)">
<text class="b" y="-3" font-size="1.66em" textLength="3" lengthAdjust="spacingAndGlyphs">K</text>
<path class="e" d="M-10,-271h21M0,-271V-83M-10,-83h21"/></g>
<g transform="translate(2111,0)">
<text class="g" y="-103" font-size="0.32em" textLength="14" lengthAdjust="spacingAndGlyphs">P</text>
<text class="g" y="-78" font-size="0.23em" textLength="14" lengthAdjust="spacingAndGlyphs">A</text>
<text y="-59" font-size="0.09em" textLength="14" lengthAdjust="spacingAndGlyphs">M</text>
<text y="-44" font-size="0.09em" textLength="14" lengthAdjust="spacingAndGlyphs">F</text>
<text class="i" y="-31" font-size="0.07em" textLength="14" lengthAdjust="spacingAndGlyphs">I</text>
<text y="-18" font-size="0.08em" textLength="14" lengthAdjust="spacingAndGlyphs">L</text>
<text class="g" y="-4" font-size="0.07em" textLength="14" lengthAdjust="spacingAndGlyphs">T</text>
<path class="e" d="M-10,-195h21M0,-195V-77M-10,-77h21"/></g>
<g transform="translate(2201,0)">
<text class="b" y="-78" font-size="0.14em" textLength="91" lengthAdjust="spacingAndGlyphs">R</text>
<text class="g" y="-65" font-size="0.09em" textLength="98" lengthAdjust="spacingAndGlyphs">P</text>
<text class="g" y="-53" font-size="0.07em" textLength="82" lengthAdjust="spacingAndGlyphs">A</text>
<text class="b" y="-43" font-size="0.07em" textLength="102" lengthAdjust="spacingAndGlyphs">E</text>
<text y="-33" font-size="0.05em" textLength="94" lengthAdjust="spacingAndGlyphs">C</text>
<text class="i" y="-27" font-size="0.03em" textLength="109" lengthAdjust="spacingAndGlyphs">I</text>
<text class="b" y="-21" font-size="0.03em" textLength="102" lengthAdjust="spacingAndGlyphs">E</text>
<text class="i b" y="-16" font-size="0.02em" textLength="109" lengthAdjust="spacingAndGlyphs">I</text>
<path class="e" d="M-10,-123h21M0,-123V-62M-10,-62h21"/></g>
<g transform="translate(2291,0)">
<text class="g" y="-55" font-size="0.08em" textLength="82" lengthAdjust="spacingAndGlyphs">A</text>
<text class="b" y="-48" font-size="0.04em" textLength="91" lengthAdjust="spacingAndGlyphs">R</text>
<text class="g" y="-40" font-size="0.03em" textLength="102" lengthAdjust="spacingAndGlyphs">E</text>
<text class="i g" y="-34" font-size="0.03em" textLength="109" lengthAdjust="spacingAndGlyphs">I</text>
<text class="b" y="-28" font-size="0.02em" textLength="102" lengthAdjust="spacingAndGlyphs">E</text>
<text class="g" y="-22" font-size="0.03em" textLength="86" lengthAdjust="spacingAndGlyphs">T</text>
<path class="e" d="M-10,-92h21M0,-92V-33M-10,-33h21"/></g>
<g transform="translate(2381,0)">
<text class="g" y="-72" font-size="1.20em" textLength="97" lengthAdjust="spacingAndGlyphs">G</text>
<text class="b" y="-52" font-size="0.16em" textLength="102" lengthAdjust="spacingAndGlyphs">D</text>
<text class="g" y="-35" font-size="0.12em" textLength="96" lengthAdjust="spacingAndGlyphs">S</text>
<text class="g" y="-25" font-size="0.06em" textLength="101" lengthAdjust="spacingAndGlyphs">P</text>
<text class="b" y="-18" font-size="0.04em" textLength="105" lengthAdjust="spacingAndGlyphs">E</text>
<path class="e" d="M-10,-245h21M0,-245V-149M-10,-149h21"/></g>
<g transform="translate(2471,0)">
<text class="b" y="-3" font-size="1.52em" textLength="3" lengthAdjust="spacingAndGlyphs">K</text>
<path class="e" d="M-10,-252h21M0,-252V-73M-10,-73h21"/></g>
<g transform="translate(2561,0)">
<text class="b" y="-3" font-size="1.49em" textLength="3" lengthAdjust="spacingAndGlyphs">K</text>
<path class="e" d="M-10,-249h21M0,-249V-69M-10,-69h21"/></g>
<g transform="translate(2651,0)">
<text class="g" y="-3" font-size="1.44em" textLength="3" lengthAdjust="spacingAndGlyphs">T</text>
<path class="e" d="M-10,-247h21M0,-247V-60M-10,-60h21"/></g>
<g transform="translate(2741,0)">
<text class="g" y="-3" font-size="1.44em" textLength="3" lengthAdjust="spacingAndGlyphs">T</text>
<path class="e" d="M-10,-247h21M0,-247V-60M-10,-60h21"/></g>
<g transform="translate(2831,0)">
<text class="g" y="-3" font-size="1.44em" textLength="3" lengthAdjust="spacingAndGlyphs">T</text>
<path class="e" d="M-10,-247h21M0,-247V-60M-10,-60h21"/></g>
<g transform="translate(2921,0)">
<text class="g" y="-3" font-size="1.44em" textLength="3" lengthAdjust="spacingAndGlyphs">T</text>
<path class="e" d="M-10,-247h21M0,-247V-60M-10,-60h21"/></g>
<g transform="translate(3011,0)">
<text class="b" y="-93" font-size="0.53em" textLength="4" lengthAdjust="spacingAndGlyphs">K</text>
<text class="g" y="-3" font-size="0.77em" textLength="5" lengthAdjust="spacingAndGlyphs">S</text>
<path class="e" d="M-10,-219h21M0,-219V-76M-10,-76h21"/></g>
<g transform="translate(3101,0)">
<text class="b" y="-84" font-size="0.51em" textLength="88" lengthAdjust="spacingAndGlyphs">K</text>
<text class="b" y="-64" font-size="0.16em" textLength="105" lengthAdjust="spacingAndGlyphs">E</text>
<text class="b" y="-43" font-size="0.15em" textLength="93" lengthAdjust="spacingAndGlyphs">R</text>
<text y="-35" font-size="0.02em" textLength="105" lengthAdjust="spacingAndGlyphs">L</text>
<text class="i b" y="-29" font-size="0.03em" textLength="112" lengthAdjust="spacingAndGlyphs">I</text>
<text class="b" y="-22" font-size="0.03em" textLength="105" lengthAdjust="spacingAndGlyphs">E</text>
<text class="i" y="-16" font-size="0.03em" textLength="112" lengthAdjust="spacingAndGlyphs">I</text>
<path class="e" d="M-10,-178h21M0,-178V-98M-10,-98h21"/></g>
<g transform="translate(3191,0)">
<text class="g" y="-60" font-size="0.08em" textLength="93" lengthAdjust="spacingAndGlyphs">S</text>
<text class="g" y="-50" font-size="0.06em" textLength="86" lengthAdjust="spacingAndGlyphs">T</text>
<text class="i b" y="-45" font-size="0.03em" textLength="109" lengthAdjust="spacingAndGlyphs">I</text>
<text y="-38" font-size="0.04em" textLength="102" lengthAdjust="spacingAndGlyphs">L</text>
<text class="g" y="-31" font-size="0.03em" textLength="102" lengthAdjust="spacingAndGlyphs">E</text>
<text class="i" y="-24" font-size="0.03em" textLength="109" lengthAdjust="spacingAndGlyphs">I</text>
<text y="-19" font-size="0.03em" textLength="82" lengthAdjust="spacingAndGlyphs">V</text>
<text class="b" y="-14" font-size="0.02em" textLength="102" lengthAdjust="spacingAndGlyphs">E</text>
<path class="e" d="M-10,-94h21M0,-94V-45M-10,-45h21"/></g>
<g transform="translate(3281,0)">
<text y="-78" font-size="3.86em" textLength="80" lengthAdjust="spacingAndGlyphs">W</text>
<text y="-28" font-size="0.45em" textLength="104" lengthAdjust="spacingAndGlyphs">F</text>
<text class="b" y="-20" font-size="0.05em" textLength="98" lengthAdjust="spacingAndGlyphs">D</text>
<text class="g" y="-11" font-size="0.07em" textLength="91" lengthAdjust="spacingAndGlyphs">S</text>
<text y="-4" font-size="0.04em" textLength="80" lengthAdjust="spacingAndGlyphs">V</text>
<path class="e" d="M-10,-450h21M0,-450V-430M-10,-430h21"/></g>
<g transform="translate(3371,0)">
<text class="b" y="-95" font-size="0.31em" textLength="93" lengthAdjust="spacingAndGlyphs">R</text>
<text class="b" y="-77" font-size="0.12em" textLength="102" lengthAdjust="spacingAndGlyphs">D</text>
<text class="g" y="-62" font-size="0.11em" textLength="107" lengthAdjust="spacingAndGlyphs">H</text>
<text class="b" y="-49" font-size="0.08em" textLength="92" lengthAdjust="spacingAndGlyphs">Q</text>
<text class="b" y="-36" font-size="0.07em" textLength="105" lengthAdjust="spacingAndGlyphs">E</text>
<text class="g" y="-28" font-size="0.05em" textLength="88" lengthAdjust="spacingAndGlyphs">T</text>
<text class="i b" y="-21" font-size="0.03em" textLength="112" lengthAdjust="spacingAndGlyphs">I</text>
<text class="g" y="-15" font-size="0.03em" textLength="105" lengthAdjust="spacingAndGlyphs">E</text>
<text class="i" y="-10" font-size="0.02em" textLength="112" lengthAdjust="spacingAndGlyphs">I</text>
<path class="e" d="M-10,-161h21M0,-161V-94M-10,-94h21"/></g>
<g transform="translate(3461,0)">
<text y="-131" font-size="0.84em" textLength="109" lengthAdjust="spacingAndGlyphs">F</text>
<text y="-45" font-size="0.80em" textLength="84" lengthAdjust="spacingAndGlyphs">V</text>
<text class="g" y="-30" font-size="0.11em" textLength="84" lengthAdjust="spacingAndGlyphs">A</text>
<text y="-23" font-size="0.04em" textLength="102" lengthAdjust="spacingAndGlyphs">M</text>
<text class="g" y="-8" font-size="0.11em" textLength="88" lengthAdjust="spacingAndGlyphs">T</text>
<path class="e" d="M-10,-260h21M0,-260V-179M-10,-179h21"/></g>
<g transform="translate(3551,0)">
<text class="b" y="-80" font-size="0.37em" textLength="93" lengthAdjust="spacingAndGlyphs">R</text>
<text class="b" y="-64" font-size="0.13em" textLength="88" lengthAdjust="spacingAndGlyphs">K</text>
<text class="b" y="-47" font-size="0.13em" textLength="92" lengthAdjust="spacingAndGlyphs">Q</text>
<text class="g" y="-33" font-size="0.09em" textLength="96" lengthAdjust="spacingAndGlyphs">S</text>
<text y="-27" font-size="0.04em" textLength="105" lengthAdjust="spacingAndGlyphs">L</text>
<path class="e" d="M-10,-156h21M0,-156V-81M-10,-81h21"/></g>
<g transform="translate(3641,0)">
<text y="-119" font-size="1.03em" textLength="82" lengthAdjust="spacingAndGlyphs">Y</text>
<text y="-82" font-size="0.31em" textLength="102" lengthAdjust="spacingAndGlyphs">L</text>
<text y="-50" font-size="0.28em" textLength="82" lengthAdjust="spacingAndGlyphs">V</text>
<text y="-22" font-size="0.24em" textLength="107" lengthAdjust="spacingAndGlyphs">F</text>
<text y="-16" font-size="0.04em" textLength="100" lengthAdjust="spacingAndGlyphs">M</text>
<path class="e" d="M-10,-269h21M0,-269V-185M-10,-185h21"/></g>
<g transform="translate(3731,0)">
<text class="g" y="-100" font-size="0.45em" textLength="64" lengthAdjust="spacingAndGlyphs">S</text>
<text class="b" y="-57" font-size="0.35em" textLength="62" lengthAdjust="spacingAndGlyphs">R</text>
<text y="-45" font-size="0.06em" textLength="56" lengthAdjust="spacingAndGlyphs">Y</text>
<text class="g" y="-36" font-size="0.04em" textLength="56" lengthAdjust="spacingAndGlyphs">A</text>
<text y="-29" font-size="0.04em" textLength="64" lengthAdjust="spacingAndGlyphs">C</text>
<text y="-23" font-size="0.03em" textLength="68" lengthAdjust="spacingAndGlyphs">M</text>
<path class="e" d="M-10,-194h21M0,-194V-99M-10,-99h21"/></g>
<g transform="translate(3821,0)">
<text y="-112" font-size="0.89em" textLength="57" lengthAdjust="spacingAndGlyphs">Y</text>
<text y="-70" font-size="0.36em" textLength="74" lengthAdjust="spacingAndGlyphs">F</text>
<text class="b" y="-55" font-size="0.10em" textLength="63" lengthAdjust="spacingAndGlyphs">R</text>
<text class="g" y="-45" font-size="0.05em" textLength="57" lengthAdjust="spacingAndGlyphs">A</text>
<text class="i" y="-33" font-size="0.07em" textLength="76" lengthAdjust="spacingAndGlyphs">I</text>
<text y="-24" font-size="0.07em" textLength="57" lengthAdjust="spacingAndGlyphs">V</text>
<text class="b" y="-15" font-size="0.04em" textLength="71" lengthAdjust="spacingAndGlyphs">E</text>
<text class="i b" y="-10" font-size="0.03em" textLength="76" lengthAdjust="spacingAndGlyphs">I</text>
<text class="g" y="-5" font-size="0.03em" textLength="71" lengthAdjust="spacingAndGlyphs">E</text>
<path class="e" d="M-10,-253h21M0,-253V-155M-10,-155h21"/></g>
</g>
</g>

<!-- ================= ROW 3 ================= -->
<g transform="translate(0,1667)">
<use href="#yax"/><use href="#xt40"/>
<text class="t" x="214" y="23" text-anchor="end" textLength="89" lengthAdjust="spacingAndGlyphs">0.0</text>
<text class="t" x="214" y="-81" text-anchor="end" textLength="89" lengthAdjust="spacingAndGlyphs">1.0</text>
<text class="t" x="214" y="-186" text-anchor="end" textLength="89" lengthAdjust="spacingAndGlyphs">2.0</text>
<text class="t" x="214" y="-290" text-anchor="end" textLength="89" lengthAdjust="spacingAndGlyphs">3.0</text>
<text class="t" x="214" y="-394" text-anchor="end" textLength="89" lengthAdjust="spacingAndGlyphs">4.0</text>
<text class="bl" transform="translate(101,-225) rotate(-90)" textLength="123" lengthAdjust="spacingAndGlyphs">bits</text>
<g class="t" text-anchor="middle">
<text x="671" y="88" textLength="70" lengthAdjust="spacingAndGlyphs">85</text>
<text x="1121" y="88" textLength="70" lengthAdjust="spacingAndGlyphs">90</text>
<text x="1571" y="88" textLength="70" lengthAdjust="spacingAndGlyphs">95</text>
<text x="2021" y="88" textLength="105" lengthAdjust="spacingAndGlyphs">100</text>
<text x="2471" y="88" textLength="105" lengthAdjust="spacingAndGlyphs">105</text>
<text x="2921" y="88" textLength="105" lengthAdjust="spacingAndGlyphs">110</text>
<text x="3371" y="88" textLength="105" lengthAdjust="spacingAndGlyphs">115</text>
<text x="3821" y="88" textLength="105" lengthAdjust="spacingAndGlyphs">120</text>
</g>
<g class="L">
<g transform="translate(311,0)">
<text y="-72" font-size="2.52em" textLength="8" lengthAdjust="spacingAndGlyphs">W</text>
<text class="b" y="-39" font-size="0.27em" textLength="12" lengthAdjust="spacingAndGlyphs">E</text>
<text class="b" y="-5" font-size="0.28em" textLength="12" lengthAdjust="spacingAndGlyphs">K</text>
<path class="e" d="M-10,-436h21M0,-436V-231M-10,-231h21"/></g>
<g transform="translate(401,0)">
<text y="-5" font-size="1.42em" textLength="3" lengthAdjust="spacingAndGlyphs">L</text>
<path class="e" d="M-10,-248h21M0,-248V-59M-10,-59h21"/></g>
<g transform="translate(491,0)">
<text class="g" y="-5" font-size="1.52em" textLength="3" lengthAdjust="spacingAndGlyphs">T</text>
<path class="e" d="M-10,-252h21M0,-252V-73M-10,-73h21"/></g>
<g transform="translate(581,0)">
<text class="g" y="-5" font-size="1.46em" textLength="3" lengthAdjust="spacingAndGlyphs">T</text>
<path class="e" d="M-10,-249h21M0,-249V-66M-10,-66h21"/></g>
<g transform="translate(671,0)">
<text class="g" y="-119" font-size="0.80em" textLength="12" lengthAdjust="spacingAndGlyphs">P</text>
<text class="g" y="-62" font-size="0.53em" textLength="5" lengthAdjust="spacingAndGlyphs">T</text>
<text class="g" y="-45" font-size="0.14em" textLength="12" lengthAdjust="spacingAndGlyphs">A</text>
<text y="-26" font-size="0.13em" textLength="12" lengthAdjust="spacingAndGlyphs">F</text>
<text y="-5" font-size="0.17em" textLength="12" lengthAdjust="spacingAndGlyphs">V</text>
<path class="e" d="M-10,-283h21M0,-283V-120M-10,-120h21"/></g>
<g transform="translate(761,0)">
<text y="-112" font-size="0.37em" textLength="84" lengthAdjust="spacingAndGlyphs">W</text>
<text class="b" y="-89" font-size="0.19em" textLength="107" lengthAdjust="spacingAndGlyphs">N</text>
<text class="g" y="-69" font-size="0.16em" textLength="84" lengthAdjust="spacingAndGlyphs">A</text>
<text class="g" y="-58" font-size="0.06em" textLength="107" lengthAdjust="spacingAndGlyphs">H</text>
<text class="b" y="-51" font-size="0.04em" textLength="105" lengthAdjust="spacingAndGlyphs">E</text>
<text class="b" y="-42" font-size="0.05em" textLength="93" lengthAdjust="spacingAndGlyphs">R</text>
<text class="i b" y="-32" font-size="0.03em" textLength="112" lengthAdjust="spacingAndGlyphs">I</text>
<text y="-26" font-size="0.03em" textLength="105" lengthAdjust="spacingAndGlyphs">E</text>
<text class="i" y="-22" font-size="0.02em" textLength="112" lengthAdjust="spacingAndGlyphs">I</text>
<path class="e" d="M-10,-192h21M0,-192V-107M-10,-107h21"/></g>
<g transform="translate(851,0)">
<text class="b" y="-80" font-size="0.38em" textLength="107" lengthAdjust="spacingAndGlyphs">N</text>
<text class="b" y="-65" font-size="0.11em" textLength="88" lengthAdjust="spacingAndGlyphs">K</text>
<text class="g" y="-53" font-size="0.08em" textLength="96" lengthAdjust="spacingAndGlyphs">S</text>
<text class="g" y="-42" font-size="0.07em" textLength="97" lengthAdjust="spacingAndGlyphs">G</text>
<text class="b" y="-34" font-size="0.03em" textLength="105" lengthAdjust="spacingAndGlyphs">E</text>
<text class="i b" y="-28" font-size="0.03em" textLength="112" lengthAdjust="spacingAndGlyphs">I</text>
<text y="-23" font-size="0.03em" textLength="84" lengthAdjust="spacingAndGlyphs">V</text>
<path class="e" d="M-10,-156h21M0,-156V-81M-10,-81h21"/></g>
<g transform="translate(941,0)">
<text class="g" y="-82" font-size="0.25em" textLength="93" lengthAdjust="spacingAndGlyphs">S</text>
<text class="b" y="-67" font-size="0.11em" textLength="86" lengthAdjust="spacingAndGlyphs">K</text>
<text class="b" y="-51" font-size="0.12em" textLength="104" lengthAdjust="spacingAndGlyphs">N</text>
<text class="b" y="-39" font-size="0.09em" textLength="100" lengthAdjust="spacingAndGlyphs">D</text>
<text class="g" y="-30" font-size="0.04em" textLength="94" lengthAdjust="spacingAndGlyphs">G</text>
<text class="b" y="-21" font-size="0.04em" textLength="102" lengthAdjust="spacingAndGlyphs">E</text>
<path class="e" d="M-10,-140h21M0,-140V-79M-10,-79h21"/></g>
<g transform="translate(1031,0)">
<text class="g" y="-72" font-size="0.53em" textLength="96" lengthAdjust="spacingAndGlyphs">S</text>
<text class="b" y="-57" font-size="0.11em" textLength="93" lengthAdjust="spacingAndGlyphs">R</text>
<text class="g" y="-47" font-size="0.06em" textLength="97" lengthAdjust="spacingAndGlyphs">G</text>
<text y="-34" font-size="0.07em" textLength="105" lengthAdjust="spacingAndGlyphs">L</text>
<text class="i b" y="-27" font-size="0.03em" textLength="112" lengthAdjust="spacingAndGlyphs">I</text>
<text class="b" y="-22" font-size="0.03em" textLength="105" lengthAdjust="spacingAndGlyphs">E</text>
<text class="b" y="-17" font-size="0.03em" textLength="88" lengthAdjust="spacingAndGlyphs">T</text>
<path class="e" d="M-10,-172h21M0,-172V-82M-10,-82h21"/></g>
<g transform="translate(1121,0)">
<text class="b" y="-105" font-size="0.37em" textLength="91" lengthAdjust="spacingAndGlyphs">R</text>
<text class="b" y="-69" font-size="0.33em" textLength="89" lengthAdjust="spacingAndGlyphs">Q</text>
<text class="g" y="-48" font-size="0.16em" textLength="94" lengthAdjust="spacingAndGlyphs">G</text>
<text class="b" y="-34" font-size="0.10em" textLength="86" lengthAdjust="spacingAndGlyphs">K</text>
<text class="g" y="-27" font-size="0.04em" textLength="104" lengthAdjust="spacingAndGlyphs">H</text>
<text class="i g" y="-20" font-size="0.03em" textLength="109" lengthAdjust="spacingAndGlyphs">I</text>
<text class="g" y="-17" font-size="0.02em" textLength="102" lengthAdjust="spacingAndGlyphs">E</text>
<path class="e" d="M-10,-180h21M0,-180V-107M-10,-107h21"/></g>
<g transform="translate(1211,0)">
<text class="g" y="-85" font-size="0.24em" textLength="91" lengthAdjust="spacingAndGlyphs">S</text>
<text y="-69" font-size="0.11em" textLength="98" lengthAdjust="spacingAndGlyphs">M</text>
<text class="b" y="-53" font-size="0.11em" textLength="89" lengthAdjust="spacingAndGlyphs">R</text>
<text class="g" y="-42" font-size="0.07em" textLength="92" lengthAdjust="spacingAndGlyphs">G</text>
<text class="b" y="-32" font-size="0.03em" textLength="100" lengthAdjust="spacingAndGlyphs">E</text>
<text y="-25" font-size="0.03em" textLength="80" lengthAdjust="spacingAndGlyphs">W</text>
<path class="e" d="M-10,-147h21M0,-147V-73M-10,-73h21"/></g>
<g transform="translate(1301,0)">
<text class="g" y="-72" font-size="0.77em" textLength="4" lengthAdjust="spacingAndGlyphs">T</text>
<text y="-5" font-size="0.60em" textLength="5" lengthAdjust="spacingAndGlyphs">C</text>
<path class="e" d="M-10,-232h21M0,-232V-72M-10,-72h21"/></g>
<g transform="translate(1391,0)">
<text y="-97" font-size="0.80em" textLength="76" lengthAdjust="spacingAndGlyphs">Y</text>
<text class="b" y="-82" font-size="0.10em" textLength="80" lengthAdjust="spacingAndGlyphs">K</text>
<text y="-69" font-size="0.09em" textLength="76" lengthAdjust="spacingAndGlyphs">V</text>
<text class="i" y="-56" font-size="0.06em" textLength="101" lengthAdjust="spacingAndGlyphs">I</text>
<text y="-47" font-size="0.05em" textLength="95" lengthAdjust="spacingAndGlyphs">L</text>
<text class="g" y="-38" font-size="0.05em" textLength="76" lengthAdjust="spacingAndGlyphs">A</text>
<text class="g" y="-31" font-size="0.03em" textLength="87" lengthAdjust="spacingAndGlyphs">G</text>
<text class="b" y="-25" font-size="0.03em" textLength="97" lengthAdjust="spacingAndGlyphs">N</text>
<path class="e" d="M-10,-228h21M0,-228V-131M-10,-131h21"/></g>
<g transform="translate(1481,0)">
<text y="-87" font-size="0.52em" textLength="78" lengthAdjust="spacingAndGlyphs">V</text>
<text y="-69" font-size="0.14em" textLength="101" lengthAdjust="spacingAndGlyphs">F</text>
<text class="b" y="-51" font-size="0.14em" textLength="87" lengthAdjust="spacingAndGlyphs">R</text>
<text class="i" y="-42" font-size="0.05em" textLength="104" lengthAdjust="spacingAndGlyphs">I</text>
<text class="g" y="-32" font-size="0.04em" textLength="90" lengthAdjust="spacingAndGlyphs">G</text>
<text y="-25" font-size="0.04em" textLength="98" lengthAdjust="spacingAndGlyphs">L</text>
<text y="-18" font-size="0.04em" textLength="95" lengthAdjust="spacingAndGlyphs">M</text>
<text class="g" y="-13" font-size="0.01em" textLength="98" lengthAdjust="spacingAndGlyphs">E</text>
<path class="e" d="M-10,-179h21M0,-179V-101M-10,-101h21"/></g>
<g transform="translate(1571,0)">
<text y="-87" font-size="1.09em" textLength="105" lengthAdjust="spacingAndGlyphs">L</text>
<text y="-56" font-size="0.26em" textLength="102" lengthAdjust="spacingAndGlyphs">M</text>
<text y="-32" font-size="0.19em" textLength="109" lengthAdjust="spacingAndGlyphs">F</text>
<text class="i" y="-18" font-size="0.10em" textLength="112" lengthAdjust="spacingAndGlyphs">I</text>
<path class="e" d="M-10,-247h21M0,-247V-152M-10,-152h21"/></g>
<g transform="translate(1661,0)">
<text class="g" y="-85" font-size="0.34em" textLength="86" lengthAdjust="spacingAndGlyphs">T</text>
<text class="b" y="-65" font-size="0.14em" textLength="102" lengthAdjust="spacingAndGlyphs">E</text>
<text class="g" y="-51" font-size="0.07em" textLength="94" lengthAdjust="spacingAndGlyphs">G</text>
<text class="b" y="-42" font-size="0.05em" textLength="89" lengthAdjust="spacingAndGlyphs">Q</text>
<text class="g" y="-31" font-size="0.04em" textLength="93" lengthAdjust="spacingAndGlyphs">S</text>
<text class="b" y="-25" font-size="0.01em" textLength="102" lengthAdjust="spacingAndGlyphs">E</text>
<path class="e" d="M-10,-157h21M0,-157V-85M-10,-85h21"/></g>
<g transform="translate(1751,0)">
<text class="g" y="-11" font-size="1.41em" textLength="3" lengthAdjust="spacingAndGlyphs">T</text>
<path class="e" d="M-10,-249h21M0,-249V-67M-10,-67h21"/></g>
<g transform="translate(1841,0)">
<text class="b" y="-80" font-size="0.30em" textLength="78" lengthAdjust="spacingAndGlyphs">K</text>
<text class="g" y="-59" font-size="0.15em" textLength="85" lengthAdjust="spacingAndGlyphs">G</text>
<text class="g" y="-40" font-size="0.14em" textLength="74" lengthAdjust="spacingAndGlyphs">A</text>
<text class="g" y="-32" font-size="0.03em" textLength="84" lengthAdjust="spacingAndGlyphs">S</text>
<text class="b" y="-26" font-size="0.02em" textLength="93" lengthAdjust="spacingAndGlyphs">E</text>
<text class="i b" y="-21" font-size="0.03em" textLength="98" lengthAdjust="spacingAndGlyphs">I</text>
<text class="b" y="-15" font-size="0.02em" textLength="93" lengthAdjust="spacingAndGlyphs">E</text>
<path class="e" d="M-10,-150h21M0,-150V-76M-10,-76h21"/></g>
<g transform="translate(1931,0)">
<text class="g" y="-49" font-size="2.01em" textLength="94" lengthAdjust="spacingAndGlyphs">G</text>
<text class="g" y="-31" font-size="0.13em" textLength="82" lengthAdjust="spacingAndGlyphs">A</text>
<text class="b" y="-22" font-size="0.05em" textLength="104" lengthAdjust="spacingAndGlyphs">N</text>
<text class="b" y="-15" font-size="0.03em" textLength="102" lengthAdjust="spacingAndGlyphs">E</text>
<text class="i g" y="-10" font-size="0.03em" textLength="109" lengthAdjust="spacingAndGlyphs">I</text>
<text class="g" y="-4" font-size="0.03em" textLength="102" lengthAdjust="spacingAndGlyphs">E</text>
<path class="e" d="M-10,-309h21M0,-309V-209M-10,-209h21"/></g>
<g transform="translate(2021,0)">
<text y="-75" font-size="3.76em" textLength="84" lengthAdjust="spacingAndGlyphs">W</text>
<text class="g" y="-51" font-size="0.20em" textLength="88" lengthAdjust="spacingAndGlyphs">T</text>
<text y="-28" font-size="0.19em" textLength="84" lengthAdjust="spacingAndGlyphs">V</text>
<text class="g" y="-14" font-size="0.11em" textLength="84" lengthAdjust="spacingAndGlyphs">A</text>
<text y="-4" font-size="0.04em" textLength="105" lengthAdjust="spacingAndGlyphs">L</text>
<path class="e" d="M-10,-450h21M0,-450V-413M-10,-413h21"/></g>
<g transform="translate(2111,0)">
<text class="g" y="-70" font-size="0.21em" textLength="96" lengthAdjust="spacingAndGlyphs">S</text>
<text class="b" y="-57" font-size="0.09em" textLength="88" lengthAdjust="spacingAndGlyphs">K</text>
<text class="g" y="-46" font-size="0.07em" textLength="97" lengthAdjust="spacingAndGlyphs">G</text>
<text class="b" y="-34" font-size="0.07em" textLength="93" lengthAdjust="spacingAndGlyphs">R</text>
<text class="g" y="-25" font-size="0.04em" textLength="84" lengthAdjust="spacingAndGlyphs">A</text>
<text class="i g" y="-18" font-size="0.02em" textLength="112" lengthAdjust="spacingAndGlyphs">I</text>
<text class="g" y="-15" font-size="0.02em" textLength="105" lengthAdjust="spacingAndGlyphs">E</text>
<path class="e" d="M-10,-123h21M0,-123V-64M-10,-64h21"/></g>
<g transform="translate(2201,0)">
<text class="b" y="-84" font-size="0.25em" textLength="93" lengthAdjust="spacingAndGlyphs">R</text>
<text class="b" y="-59" font-size="0.20em" textLength="105" lengthAdjust="spacingAndGlyphs">E</text>
<text class="b" y="-50" font-size="0.08em" textLength="102" lengthAdjust="spacingAndGlyphs">D</text>
<text class="g" y="-39" font-size="0.07em" textLength="97" lengthAdjust="spacingAndGlyphs">G</text>
<text class="i g" y="-29" font-size="0.03em" textLength="112" lengthAdjust="spacingAndGlyphs">I</text>
<text class="b" y="-23" font-size="0.03em" textLength="105" lengthAdjust="spacingAndGlyphs">E</text>
<text class="i g" y="-16" font-size="0.03em" textLength="112" lengthAdjust="spacingAndGlyphs">I</text>
<text class="b" y="-9" font-size="0.03em" textLength="105" lengthAdjust="spacingAndGlyphs">E</text>
<path class="e" d="M-10,-142h21M0,-142V-80M-10,-80h21"/></g>
<g transform="translate(2291,0)">
<text y="-59" font-size="2.89em" textLength="107" lengthAdjust="spacingAndGlyphs">F</text>
<text y="-30" font-size="0.25em" textLength="82" lengthAdjust="spacingAndGlyphs">Y</text>
<text y="-10" font-size="0.14em" textLength="94" lengthAdjust="spacingAndGlyphs">C</text>
<text y="-4" font-size="0.03em" textLength="82" lengthAdjust="spacingAndGlyphs">V</text>
<path class="e" d="M-10,-411h21M0,-411V-313M-10,-313h21"/></g>
<g transform="translate(2381,0)">
<text y="-97" font-size="1.04em" textLength="84" lengthAdjust="spacingAndGlyphs">V</text>
<text class="g" y="-36" font-size="0.54em" textLength="84" lengthAdjust="spacingAndGlyphs">A</text>
<text class="i" y="-23" font-size="0.09em" textLength="112" lengthAdjust="spacingAndGlyphs">I</text>
<text y="-15" font-size="0.05em" textLength="97" lengthAdjust="spacingAndGlyphs">C</text>
<text y="-8" font-size="0.03em" textLength="105" lengthAdjust="spacingAndGlyphs">L</text>
<path class="e" d="M-10,-247h21M0,-247V-164M-10,-164h21"/></g>
<g transform="translate(2471,0)">
<text class="b" y="-85" font-size="0.28em" textLength="88" lengthAdjust="spacingAndGlyphs">K</text>
<text class="b" y="-55" font-size="0.25em" textLength="93" lengthAdjust="spacingAndGlyphs">R</text>
<text class="b" y="-47" font-size="0.04em" textLength="92" lengthAdjust="spacingAndGlyphs">Q</text>
<text y="-39" font-size="0.04em" textLength="105" lengthAdjust="spacingAndGlyphs">L</text>
<text class="g" y="-25" font-size="0.09em" textLength="96" lengthAdjust="spacingAndGlyphs">S</text>
<path class="e" d="M-10,-152h21M0,-152V-79M-10,-79h21"/></g>
<g transform="translate(2561,0)">
<text class="b" y="-98" font-size="0.28em" textLength="102" lengthAdjust="spacingAndGlyphs">D</text>
<text class="b" y="-65" font-size="0.29em" textLength="105" lengthAdjust="spacingAndGlyphs">E</text>
<text class="g" y="-42" font-size="0.19em" textLength="84" lengthAdjust="spacingAndGlyphs">A</text>
<text class="g" y="-31" font-size="0.05em" textLength="96" lengthAdjust="spacingAndGlyphs">S</text>
<text class="i b" y="-23" font-size="0.03em" textLength="112" lengthAdjust="spacingAndGlyphs">I</text>
<text class="b" y="-18" font-size="0.02em" textLength="105" lengthAdjust="spacingAndGlyphs">E</text>
<path class="e" d="M-10,-162h21M0,-162V-93M-10,-93h21"/></g>
<g transform="translate(2651,0)">
<text class="b" y="-166" font-size="0.78em" textLength="107" lengthAdjust="spacingAndGlyphs">N</text>
<text class="g" y="-89" font-size="0.70em" textLength="107" lengthAdjust="spacingAndGlyphs">H</text>
<text class="b" y="-25" font-size="0.58em" textLength="88" lengthAdjust="spacingAndGlyphs">K</text>
<text y="-18" font-size="0.04em" textLength="105" lengthAdjust="spacingAndGlyphs">L</text>
<text class="b" y="-4" font-size="0.02em" textLength="105" lengthAdjust="spacingAndGlyphs">E</text>
<path class="e" d="M-10,-286h21M0,-286V-210M-10,-210h21"/></g>
<g transform="translate(2741,0)">
<text class="b" y="-83" font-size="0.21em" textLength="91" lengthAdjust="spacingAndGlyphs">R</text>
<text class="g" y="-59" font-size="0.19em" textLength="94" lengthAdjust="spacingAndGlyphs">G</text>
<text class="b" y="-48" font-size="0.05em" textLength="86" lengthAdjust="spacingAndGlyphs">K</text>
<text class="b" y="-40" font-size="0.05em" textLength="93" lengthAdjust="spacingAndGlyphs">S</text>
<text class="b" y="-32" font-size="0.04em" textLength="100" lengthAdjust="spacingAndGlyphs">D</text>
<text class="b" y="-26" font-size="0.03em" textLength="102" lengthAdjust="spacingAndGlyphs">E</text>
<path class="e" d="M-10,-142h21M0,-142V-74M-10,-74h21"/></g>
<g transform="translate(2831,0)">
<text y="-36" font-size="2.17em" textLength="105" lengthAdjust="spacingAndGlyphs">L</text>
<text y="-18" font-size="0.14em" textLength="84" lengthAdjust="spacingAndGlyphs">V</text>
<text class="i" y="-4" font-size="0.10em" textLength="112" lengthAdjust="spacingAndGlyphs">I</text>
<path class="e" d="M-10,-311h21M0,-311V-215M-10,-215h21"/></g>
<g transform="translate(2921,0)">
<text class="b" y="-85" font-size="0.28em" textLength="92" lengthAdjust="spacingAndGlyphs">Q</text>
<text class="b" y="-69" font-size="0.11em" textLength="88" lengthAdjust="spacingAndGlyphs">K</text>
<text class="b" y="-55" font-size="0.09em" textLength="102" lengthAdjust="spacingAndGlyphs">D</text>
<text class="b" y="-44" font-size="0.07em" textLength="93" lengthAdjust="spacingAndGlyphs">R</text>
<text class="g" y="-35" font-size="0.04em" textLength="97" lengthAdjust="spacingAndGlyphs">G</text>
<text y="-26" font-size="0.05em" textLength="84" lengthAdjust="spacingAndGlyphs">V</text>
<text class="i g" y="-17" font-size="0.03em" textLength="112" lengthAdjust="spacingAndGlyphs">I</text>
<text class="b" y="-12" font-size="0.03em" textLength="105" lengthAdjust="spacingAndGlyphs">E</text>
<text class="i g" y="-8" font-size="0.02em" textLength="112" lengthAdjust="spacingAndGlyphs">I</text>
<path class="e" d="M-10,-147h21M0,-147V-83M-10,-83h21"/></g>
<g transform="translate(3011,0)">
<text class="g" y="-72" font-size="0.39em" textLength="84" lengthAdjust="spacingAndGlyphs">A</text>
<text class="b" y="-57" font-size="0.10em" textLength="105" lengthAdjust="spacingAndGlyphs">E</text>
<text y="-45" font-size="0.07em" textLength="105" lengthAdjust="spacingAndGlyphs">L</text>
<text class="b" y="-34" font-size="0.04em" textLength="88" lengthAdjust="spacingAndGlyphs">K</text>
<text class="b" y="-25" font-size="0.05em" textLength="102" lengthAdjust="spacingAndGlyphs">D</text>
<text class="i" y="-17" font-size="0.03em" textLength="112" lengthAdjust="spacingAndGlyphs">I</text>
<text y="-14" font-size="0.02em" textLength="84" lengthAdjust="spacingAndGlyphs">V</text>
<path class="e" d="M-10,-151h21M0,-151V-73M-10,-73h21"/></g>
<g transform="translate(3101,0)">
<text class="g" y="-49" font-size="2.01em" textLength="94" lengthAdjust="spacingAndGlyphs">G</text>
<text class="b" y="-40" font-size="0.05em" textLength="100" lengthAdjust="spacingAndGlyphs">D</text>
<text class="g" y="-31" font-size="0.05em" textLength="93" lengthAdjust="spacingAndGlyphs">S</text>
<text class="i" y="-22" font-size="0.03em" textLength="109" lengthAdjust="spacingAndGlyphs">I</text>
<text class="b" y="-16" font-size="0.03em" textLength="102" lengthAdjust="spacingAndGlyphs">E</text>
<text class="i b" y="-10" font-size="0.03em" textLength="109" lengthAdjust="spacingAndGlyphs">I</text>
<text class="b" y="-5" font-size="0.02em" textLength="102" lengthAdjust="spacingAndGlyphs">E</text>
<path class="e" d="M-10,-314h21M0,-314V-204M-10,-204h21"/></g>
<g transform="translate(3191,0)">
<text class="b" y="-45" font-size="2.71em" textLength="100" lengthAdjust="spacingAndGlyphs">D</text>
<text class="b" y="-27" font-size="0.12em" textLength="102" lengthAdjust="spacingAndGlyphs">E</text>
<text class="g" y="-16" font-size="0.06em" textLength="104" lengthAdjust="spacingAndGlyphs">H</text>
<text class="i" y="-6" font-size="0.03em" textLength="109" lengthAdjust="spacingAndGlyphs">I</text>
<path class="e" d="M-10,-378h21M0,-378V-278M-10,-278h21"/></g>
<g transform="translate(3281,0)">
<text class="g" y="-97" font-size="0.26em" textLength="88" lengthAdjust="spacingAndGlyphs">T</text>
<text class="i" y="-72" font-size="0.18em" textLength="112" lengthAdjust="spacingAndGlyphs">I</text>
<text y="-52" font-size="0.15em" textLength="84" lengthAdjust="spacingAndGlyphs">V</text>
<text y="-39" font-size="0.10em" textLength="105" lengthAdjust="spacingAndGlyphs">L</text>
<text y="-28" font-size="0.06em" textLength="109" lengthAdjust="spacingAndGlyphs">F</text>
<text class="i" y="-19" font-size="0.03em" textLength="112" lengthAdjust="spacingAndGlyphs">I</text>
<text class="g" y="-13" font-size="0.03em" textLength="105" lengthAdjust="spacingAndGlyphs">E</text>
<text class="g" y="-8" font-size="0.03em" textLength="88" lengthAdjust="spacingAndGlyphs">T</text>
<path class="e" d="M-10,-155h21M0,-155V-92M-10,-92h21"/></g>
<g transform="translate(3371,0)">
<text y="-157" font-size="0.69em" textLength="82" lengthAdjust="spacingAndGlyphs">V</text>
<text y="-89" font-size="0.61em" textLength="94" lengthAdjust="spacingAndGlyphs">C</text>
<text y="-21" font-size="0.61em" textLength="102" lengthAdjust="spacingAndGlyphs">L</text>
<text class="i" y="-8" font-size="0.08em" textLength="109" lengthAdjust="spacingAndGlyphs">I</text>
<path class="e" d="M-10,-270h21M0,-270V-189M-10,-189h21"/></g>
<g transform="translate(3461,0)">
<text y="-80" font-size="0.40em" textLength="80" lengthAdjust="spacingAndGlyphs">V</text>
<text y="-53" font-size="0.20em" textLength="100" lengthAdjust="spacingAndGlyphs">L</text>
<text class="g" y="-42" font-size="0.07em" textLength="91" lengthAdjust="spacingAndGlyphs">S</text>
<text class="g" y="-30" font-size="0.07em" textLength="84" lengthAdjust="spacingAndGlyphs">T</text>
<text class="b" y="-22" font-size="0.02em" textLength="100" lengthAdjust="spacingAndGlyphs">E</text>
<text class="i" y="-18" font-size="0.02em" textLength="106" lengthAdjust="spacingAndGlyphs">I</text>
<path class="e" d="M-10,-157h21M0,-157V-87M-10,-87h21"/></g>
<g transform="translate(3551,0)">
<text y="-54" font-size="2.86em" textLength="107" lengthAdjust="spacingAndGlyphs">F</text>
<text class="i" y="-30" font-size="0.19em" textLength="109" lengthAdjust="spacingAndGlyphs">I</text>
<text y="-5" font-size="0.19em" textLength="102" lengthAdjust="spacingAndGlyphs">L</text>
<path class="e" d="M-10,-399h21M0,-399V-306M-10,-306h21"/></g>
<g transform="translate(3641,0)">
<text class="b" y="-73" font-size="0.15em" textLength="102" lengthAdjust="spacingAndGlyphs">E</text>
<text y="-60" font-size="0.09em" textLength="82" lengthAdjust="spacingAndGlyphs">Y</text>
<text class="b" y="-53" font-size="0.04em" textLength="86" lengthAdjust="spacingAndGlyphs">K</text>
<text class="g" y="-45" font-size="0.05em" textLength="94" lengthAdjust="spacingAndGlyphs">G</text>
<text class="i" y="-38" font-size="0.03em" textLength="109" lengthAdjust="spacingAndGlyphs">I</text>
<text class="g" y="-33" font-size="0.03em" textLength="102" lengthAdjust="spacingAndGlyphs">E</text>
<text class="i g" y="-28" font-size="0.02em" textLength="109" lengthAdjust="spacingAndGlyphs">I</text>
<path class="e" d="M-10,-121h21M0,-121V-58M-10,-58h21"/></g>
<g transform="translate(3731,0)">
<text class="b" y="-104" font-size="0.59em" textLength="87" lengthAdjust="spacingAndGlyphs">R</text>
<text y="-59" font-size="0.39em" textLength="98" lengthAdjust="spacingAndGlyphs">L</text>
<text y="-42" font-size="0.14em" textLength="78" lengthAdjust="spacingAndGlyphs">Y</text>
<text class="g" y="-27" font-size="0.10em" textLength="94" lengthAdjust="spacingAndGlyphs">P</text>
<text class="b" y="-19" font-size="0.03em" textLength="98" lengthAdjust="spacingAndGlyphs">E</text>
<text class="i b" y="-15" font-size="0.02em" textLength="104" lengthAdjust="spacingAndGlyphs">I</text>
<path class="e" d="M-10,-206h21M0,-206V-124M-10,-124h21"/></g>
<g transform="translate(3821,0)">
<text class="i" y="-62" font-size="0.08em" textLength="93" lengthAdjust="spacingAndGlyphs">I</text>
<text class="b" y="-51" font-size="0.06em" textLength="85" lengthAdjust="spacingAndGlyphs">D</text>
<text class="g" y="-41" font-size="0.07em" textLength="81" lengthAdjust="spacingAndGlyphs">G</text>
<text class="i" y="-34" font-size="0.02em" textLength="93" lengthAdjust="spacingAndGlyphs">I</text>
<text class="b" y="-29" font-size="0.03em" textLength="88" lengthAdjust="spacingAndGlyphs">E</text>
<text class="i g" y="-23" font-size="0.02em" textLength="93" lengthAdjust="spacingAndGlyphs">I</text>
<text class="g" y="-18" font-size="0.02em" textLength="74" lengthAdjust="spacingAndGlyphs">T</text>
<path class="e" d="M-10,-100h21M0,-100V-39M-10,-39h21"/></g>
</g>
</g>

<!-- ================= ROW 4 ================= -->
<g transform="translate(0,2250.5)">
<use href="#yax"/><use href="#xt16"/>
<text class="t" x="214" y="23" text-anchor="end" textLength="89" lengthAdjust="spacingAndGlyphs">0.0</text>
<text class="t" x="214" y="-81" text-anchor="end" textLength="89" lengthAdjust="spacingAndGlyphs">1.0</text>
<text class="t" x="214" y="-186" text-anchor="end" textLength="89" lengthAdjust="spacingAndGlyphs">2.0</text>
<text class="t" x="214" y="-290" text-anchor="end" textLength="89" lengthAdjust="spacingAndGlyphs">3.0</text>
<text class="t" x="214" y="-394" text-anchor="end" textLength="89" lengthAdjust="spacingAndGlyphs">4.0</text>
<text class="bl" transform="translate(101,-225) rotate(-90)" textLength="123" lengthAdjust="spacingAndGlyphs">bits</text>
<g class="t" text-anchor="middle">
<text x="671" y="88" textLength="105" lengthAdjust="spacingAndGlyphs">125</text>
<text x="1121" y="88" textLength="105" lengthAdjust="spacingAndGlyphs">130</text>
<text x="1571" y="88" textLength="105" lengthAdjust="spacingAndGlyphs">135</text>
</g>
<g class="L">
<g transform="translate(311,0)">
<text class="g" y="-87" font-size="0.48em" textLength="5" lengthAdjust="spacingAndGlyphs">A</text>
<text class="b" y="-57" font-size="0.25em" textLength="6" lengthAdjust="spacingAndGlyphs">K</text>
<text class="b" y="-26" font-size="0.25em" textLength="7" lengthAdjust="spacingAndGlyphs">R</text>
<text y="-4" font-size="0.19em" textLength="7" lengthAdjust="spacingAndGlyphs">V</text>
<path class="e" d="M-10,-211h21M0,-211V-66M-10,-66h21"/></g>
<g transform="translate(401,0)">
<text class="g" y="-95" font-size="0.37em" textLength="85" lengthAdjust="spacingAndGlyphs">G</text>
<text class="b" y="-69" font-size="0.21em" textLength="78" lengthAdjust="spacingAndGlyphs">K</text>
<text class="g" y="-48" font-size="0.17em" textLength="74" lengthAdjust="spacingAndGlyphs">A</text>
<text class="b" y="-31" font-size="0.13em" textLength="93" lengthAdjust="spacingAndGlyphs">E</text>
<text class="b" y="-15" font-size="0.13em" textLength="90" lengthAdjust="spacingAndGlyphs">D</text>
<text class="b" y="-6" font-size="0.05em" textLength="82" lengthAdjust="spacingAndGlyphs">R</text>
<path class="e" d="M-10,-163h21M0,-163V-102M-10,-102h21"/></g>
<g transform="translate(491,0)">
<text class="b" y="-79" font-size="0.09em" textLength="67" lengthAdjust="spacingAndGlyphs">D</text>
<text class="g" y="-69" font-size="0.07em" textLength="63" lengthAdjust="spacingAndGlyphs">G</text>
<text class="b" y="-54" font-size="0.10em" textLength="70" lengthAdjust="spacingAndGlyphs">N</text>
<text class="b" y="-43" font-size="0.08em" textLength="61" lengthAdjust="spacingAndGlyphs">R</text>
<text class="g" y="-33" font-size="0.05em" textLength="58" lengthAdjust="spacingAndGlyphs">T</text>
<text class="g" y="-26" font-size="0.04em" textLength="55" lengthAdjust="spacingAndGlyphs">A</text>
<text class="g" y="-19" font-size="0.03em" textLength="69" lengthAdjust="spacingAndGlyphs">E</text>
<text class="i g" y="-12" font-size="0.03em" textLength="73" lengthAdjust="spacingAndGlyphs">I</text>
<path class="e" d="M-10,-119h21M0,-119V-57M-10,-57h21"/></g>
<g transform="translate(581,0)">
<text class="g" y="-82" font-size="0.34em" textLength="20" lengthAdjust="spacingAndGlyphs">A</text>
<text class="b" y="-64" font-size="0.15em" textLength="14" lengthAdjust="spacingAndGlyphs">E</text>
<text class="g" y="-43" font-size="0.12em" textLength="14" lengthAdjust="spacingAndGlyphs">T</text>
<text y="-27" font-size="0.11em" textLength="14" lengthAdjust="spacingAndGlyphs">V</text>
<text class="g" y="-21" font-size="0.03em" textLength="14" lengthAdjust="spacingAndGlyphs">G</text>
<text class="b" y="-13" font-size="0.04em" textLength="14" lengthAdjust="spacingAndGlyphs">K</text>
<text class="g" y="-4" font-size="0.04em" textLength="14" lengthAdjust="spacingAndGlyphs">P</text>
<path class="e" d="M-10,-170h21M0,-170V-66M-10,-66h21"/></g>
<g transform="translate(671,0)">
<text y="-95" font-size="0.14em" textLength="77" lengthAdjust="spacingAndGlyphs">M</text>
<text class="g" y="-79" font-size="0.12em" textLength="72" lengthAdjust="spacingAndGlyphs">S</text>
<text class="g" y="-64" font-size="0.12em" textLength="66" lengthAdjust="spacingAndGlyphs">T</text>
<text class="g" y="-51" font-size="0.10em" textLength="63" lengthAdjust="spacingAndGlyphs">A</text>
<text class="g" y="-39" font-size="0.09em" textLength="76" lengthAdjust="spacingAndGlyphs">P</text>
<text class="b" y="-27" font-size="0.07em" textLength="77" lengthAdjust="spacingAndGlyphs">D</text>
<text class="b" y="-18" font-size="0.06em" textLength="66" lengthAdjust="spacingAndGlyphs">K</text>
<text class="b" y="-8" font-size="0.05em" textLength="79" lengthAdjust="spacingAndGlyphs">E</text>
<path class="e" d="M-10,-141h21M0,-141V-78M-10,-78h21"/></g>
<g transform="translate(761,0)">
<text class="b" y="-79" font-size="0.22em" textLength="73" lengthAdjust="spacingAndGlyphs">R</text>
<text class="b" y="-65" font-size="0.10em" textLength="69" lengthAdjust="spacingAndGlyphs">K</text>
<text class="g" y="-51" font-size="0.10em" textLength="76" lengthAdjust="spacingAndGlyphs">G</text>
<text class="g" y="-38" font-size="0.10em" textLength="75" lengthAdjust="spacingAndGlyphs">S</text>
<text class="b" y="-30" font-size="0.03em" textLength="83" lengthAdjust="spacingAndGlyphs">E</text>
<text class="b" y="-23" font-size="0.03em" textLength="84" lengthAdjust="spacingAndGlyphs">N</text>
<text class="i g" y="-15" font-size="0.03em" textLength="88" lengthAdjust="spacingAndGlyphs">I</text>
<text y="-8" font-size="0.03em" textLength="69" lengthAdjust="spacingAndGlyphs">T</text>
<path class="e" d="M-10,-134h21M0,-134V-70M-10,-70h21"/></g>
<g transform="translate(851,0)">
<text class="g" y="-88" font-size="0.27em" textLength="77" lengthAdjust="spacingAndGlyphs">G</text>
<text y="-58" font-size="0.24em" textLength="87" lengthAdjust="spacingAndGlyphs">F</text>
<text y="-49" font-size="0.08em" textLength="84" lengthAdjust="spacingAndGlyphs">L</text>
<text class="b" y="-38" font-size="0.06em" textLength="74" lengthAdjust="spacingAndGlyphs">R</text>
<text class="b" y="-30" font-size="0.05em" textLength="82" lengthAdjust="spacingAndGlyphs">D</text>
<text class="i" y="-23" font-size="0.03em" textLength="89" lengthAdjust="spacingAndGlyphs">I</text>
<text y="-14" font-size="0.03em" textLength="84" lengthAdjust="spacingAndGlyphs">E</text>
<path class="e" d="M-10,-155h21M0,-155V-77M-10,-77h21"/></g>
<g transform="translate(941,0)">
<text class="b" y="-106" font-size="0.42em" textLength="52" lengthAdjust="spacingAndGlyphs">R</text>
<text class="g" y="-57" font-size="0.43em" textLength="49" lengthAdjust="spacingAndGlyphs">T</text>
<text class="b" y="-38" font-size="0.15em" textLength="49" lengthAdjust="spacingAndGlyphs">K</text>
<text class="b" y="-29" font-size="0.04em" textLength="57" lengthAdjust="spacingAndGlyphs">D</text>
<text class="i b" y="-20" font-size="0.03em" textLength="63" lengthAdjust="spacingAndGlyphs">I</text>
<text class="b" y="-13" font-size="0.03em" textLength="59" lengthAdjust="spacingAndGlyphs">E</text>
<text class="g" y="-5" font-size="0.03em" textLength="59" lengthAdjust="spacingAndGlyphs">E</text>
<path class="e" d="M-10,-194h21M0,-194V-103M-10,-103h21"/></g>
<g transform="translate(1031,0)">
<text y="-149" font-size="0.73em" textLength="61" lengthAdjust="spacingAndGlyphs">M</text>
<text y="-83" font-size="0.59em" textLength="63" lengthAdjust="spacingAndGlyphs">L</text>
<text y="-30" font-size="0.48em" textLength="65" lengthAdjust="spacingAndGlyphs">F</text>
<text y="-10" font-size="0.16em" textLength="50" lengthAdjust="spacingAndGlyphs">Y</text>
<text class="g" y="-5" font-size="0.02em" textLength="53" lengthAdjust="spacingAndGlyphs">T</text>
<path class="e" d="M-10,-272h21M0,-272V-176M-10,-176h21"/></g>
<g transform="translate(1121,0)">
<text class="b" y="-74" font-size="0.15em" textLength="66" lengthAdjust="spacingAndGlyphs">K</text>
<text y="-59" font-size="0.10em" textLength="82" lengthAdjust="spacingAndGlyphs">F</text>
<text y="-46" font-size="0.09em" textLength="63" lengthAdjust="spacingAndGlyphs">V</text>
<text class="g" y="-41" font-size="0.03em" textLength="66" lengthAdjust="spacingAndGlyphs">T</text>
<text class="g" y="-33" font-size="0.04em" textLength="63" lengthAdjust="spacingAndGlyphs">A</text>
<text class="b" y="-26" font-size="0.04em" textLength="80" lengthAdjust="spacingAndGlyphs">N</text>
<path class="e" d="M-10,-124h21M0,-124V-57M-10,-57h21"/></g>
<g transform="translate(1211,0)">
<text y="-91" font-size="1.17em" textLength="64" lengthAdjust="spacingAndGlyphs">V</text>
<text class="i" y="-43" font-size="0.42em" textLength="85" lengthAdjust="spacingAndGlyphs">I</text>
<text y="-28" font-size="0.10em" textLength="78" lengthAdjust="spacingAndGlyphs">M</text>
<text y="-20" font-size="0.04em" textLength="80" lengthAdjust="spacingAndGlyphs">L</text>
<text class="i" y="-12" font-size="0.03em" textLength="85" lengthAdjust="spacingAndGlyphs">I</text>
<text y="-8" font-size="0.02em" textLength="80" lengthAdjust="spacingAndGlyphs">E</text>
<text class="i" y="-4" font-size="0.02em" textLength="85" lengthAdjust="spacingAndGlyphs">I</text>
<path class="e" d="M-10,-262h21M0,-262V-163M-10,-163h21"/></g>
<g transform="translate(1301,0)">
<text class="g" y="-100" font-size="0.23em" textLength="77" lengthAdjust="spacingAndGlyphs">H</text>
<text y="-83" font-size="0.12em" textLength="61" lengthAdjust="spacingAndGlyphs">Y</text>
<text class="b" y="-68" font-size="0.11em" textLength="74" lengthAdjust="spacingAndGlyphs">D</text>
<text class="g" y="-53" font-size="0.10em" textLength="70" lengthAdjust="spacingAndGlyphs">G</text>
<text y="-41" font-size="0.08em" textLength="76" lengthAdjust="spacingAndGlyphs">L</text>
<text class="b" y="-31" font-size="0.04em" textLength="66" lengthAdjust="spacingAndGlyphs">Q</text>
<text class="b" y="-24" font-size="0.03em" textLength="76" lengthAdjust="spacingAndGlyphs">E</text>
<text class="i g" y="-18" font-size="0.03em" textLength="81" lengthAdjust="spacingAndGlyphs">I</text>
<text class="g" y="-13" font-size="0.02em" textLength="76" lengthAdjust="spacingAndGlyphs">E</text>
<path class="e" d="M-10,-158h21M0,-158V-87M-10,-87h21"/></g>
<g transform="translate(1391,0)">
<text class="i" y="-119" font-size="0.75em" textLength="70" lengthAdjust="spacingAndGlyphs">I</text>
<text y="-58" font-size="0.55em" textLength="53" lengthAdjust="spacingAndGlyphs">V</text>
<text y="-31" font-size="0.23em" textLength="69" lengthAdjust="spacingAndGlyphs">F</text>
<text y="-20" font-size="0.07em" textLength="53" lengthAdjust="spacingAndGlyphs">W</text>
<text class="g" y="-13" font-size="0.02em" textLength="66" lengthAdjust="spacingAndGlyphs">E</text>
<text class="i" y="-9" font-size="0.02em" textLength="70" lengthAdjust="spacingAndGlyphs">I</text>
<text y="-4" font-size="0.02em" textLength="66" lengthAdjust="spacingAndGlyphs">E</text>
<path class="e" d="M-10,-245h21M0,-245V-148M-10,-148h21"/></g>
<g transform="translate(1481,0)">
<text class="b" y="-117" font-size="0.42em" textLength="56" lengthAdjust="spacingAndGlyphs">R</text>
<text y="-77" font-size="0.34em" textLength="65" lengthAdjust="spacingAndGlyphs">F</text>
<text class="i" y="-44" font-size="0.29em" textLength="67" lengthAdjust="spacingAndGlyphs">I</text>
<text y="-29" font-size="0.09em" textLength="63" lengthAdjust="spacingAndGlyphs">L</text>
<text y="-14" font-size="0.11em" textLength="50" lengthAdjust="spacingAndGlyphs">V</text>
<text class="g" y="-7" font-size="0.02em" textLength="63" lengthAdjust="spacingAndGlyphs">E</text>
<text class="i" y="-4" font-size="0.02em" textLength="67" lengthAdjust="spacingAndGlyphs">I</text>
<path class="e" d="M-10,-202h21M0,-202V-121M-10,-121h21"/></g>
<g transform="translate(1571,0)">
<text class="b" y="-82" font-size="1.31em" textLength="47" lengthAdjust="spacingAndGlyphs">R</text>
<text class="b" y="-51" font-size="0.26em" textLength="51" lengthAdjust="spacingAndGlyphs">D</text>
<text class="b" y="-19" font-size="0.28em" textLength="44" lengthAdjust="spacingAndGlyphs">K</text>
<text class="g" y="-9" font-size="0.07em" textLength="48" lengthAdjust="spacingAndGlyphs">S</text>
<text class="i g" y="-4" font-size="0.03em" textLength="56" lengthAdjust="spacingAndGlyphs">I</text>
<path class="e" d="M-10,-276h21M0,-276V-161M-10,-161h21"/></g>
<g transform="translate(1661,0)">
<text class="b" y="-103" font-size="0.39em" textLength="33" lengthAdjust="spacingAndGlyphs">R</text>
<text class="b" y="-69" font-size="0.30em" textLength="32" lengthAdjust="spacingAndGlyphs">K</text>
<text class="g" y="-41" font-size="0.24em" textLength="30" lengthAdjust="spacingAndGlyphs">A</text>
<text class="g" y="-17" font-size="0.19em" textLength="36" lengthAdjust="spacingAndGlyphs">P</text>
<text class="i g" y="-9" font-size="0.03em" textLength="40" lengthAdjust="spacingAndGlyphs">I</text>
<text class="g" y="-4" font-size="0.03em" textLength="32" lengthAdjust="spacingAndGlyphs">T</text>
<path class="e" d="M-10,-191h21M0,-191V-96M-10,-96h21"/></g>
</g>
</g>

<text x="3865" y="2400.7" font-family="Liberation Sans, sans-serif" font-size="50" text-anchor="end" textLength="295" lengthAdjust="spacingAndGlyphs">WebLogo 3.4</text>
</svg>
</body></html>
